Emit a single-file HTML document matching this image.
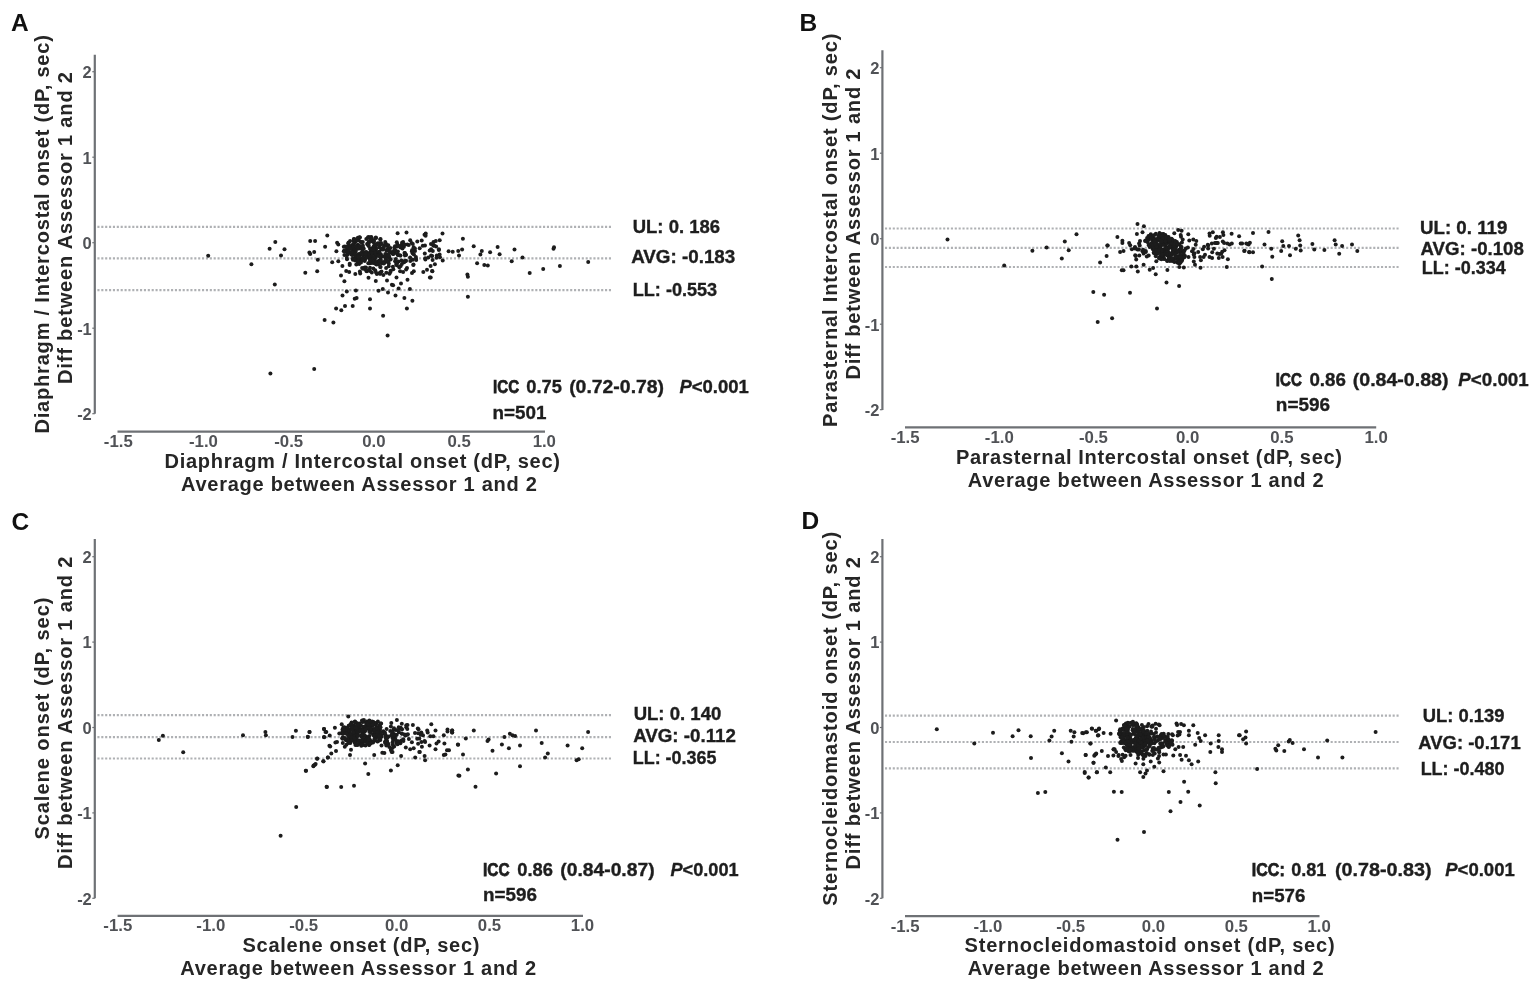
<!DOCTYPE html>
<html><head><meta charset="utf-8"><title>Bland-Altman plots</title>
<style>
html,body{margin:0;padding:0;background:#fff;}
body{width:1535px;height:985px;overflow:hidden;}
svg{display:block;}
#fig{width:1535px;height:985px;}
svg circle{fill:#1c1c1c;}
</style></head><body><div id="fig">
<svg width="1535" height="985" viewBox="0 0 1535 985" font-family="'Liberation Sans', sans-serif">
<rect width="1535" height="985" fill="#ffffff"/>
<g>
<text x="11.0" y="30.8" font-size="24.5" fill="#111111" font-weight="bold">A</text>
<line x1="94.8" y1="54.7" x2="94.8" y2="413.7" stroke="#6e7175" stroke-width="2.2"/>
<line x1="92.3" y1="71.7" x2="94.8" y2="71.7" stroke="#6e7175" stroke-width="1.2"/>
<text x="91.8" y="78.0" font-size="16.5" fill="#505256" font-weight="bold" text-anchor="end">2</text>
<line x1="92.3" y1="157.2" x2="94.8" y2="157.2" stroke="#6e7175" stroke-width="1.2"/>
<text x="91.8" y="163.5" font-size="16.5" fill="#505256" font-weight="bold" text-anchor="end">1</text>
<line x1="92.3" y1="242.7" x2="94.8" y2="242.7" stroke="#6e7175" stroke-width="1.2"/>
<text x="91.8" y="249.0" font-size="16.5" fill="#505256" font-weight="bold" text-anchor="end">0</text>
<line x1="92.3" y1="328.2" x2="94.8" y2="328.2" stroke="#6e7175" stroke-width="1.2"/>
<text x="91.8" y="334.5" font-size="16.5" fill="#505256" font-weight="bold" text-anchor="end">-1</text>
<line x1="92.3" y1="413.7" x2="94.8" y2="413.7" stroke="#6e7175" stroke-width="1.2"/>
<text x="91.8" y="420.0" font-size="16.5" fill="#505256" font-weight="bold" text-anchor="end">-2</text>
<line x1="117.5" y1="431.6" x2="545.0" y2="431.6" stroke="#6e7175" stroke-width="2.2"/>
<text x="118.3" y="447.0" font-size="16.8" fill="#505256" font-weight="bold" text-anchor="middle">-1.5</text>
<text x="203.5" y="447.0" font-size="16.8" fill="#505256" font-weight="bold" text-anchor="middle">-1.0</text>
<text x="288.7" y="447.0" font-size="16.8" fill="#505256" font-weight="bold" text-anchor="middle">-0.5</text>
<text x="373.9" y="447.0" font-size="16.8" fill="#505256" font-weight="bold" text-anchor="middle">0.0</text>
<text x="459.1" y="447.0" font-size="16.8" fill="#505256" font-weight="bold" text-anchor="middle">0.5</text>
<text x="544.3" y="447.0" font-size="16.8" fill="#505256" font-weight="bold" text-anchor="middle">1.0</text>
<line x1="97.39999999999999" y1="226.8" x2="611" y2="226.8" stroke="#afb1b4" stroke-width="2.2" stroke-dasharray="2.1 1.775"/>
<line x1="97.39999999999999" y1="258.4" x2="611" y2="258.4" stroke="#afb1b4" stroke-width="2.2" stroke-dasharray="2.1 1.775"/>
<line x1="97.39999999999999" y1="290.1" x2="611" y2="290.1" stroke="#afb1b4" stroke-width="2.2" stroke-dasharray="2.1 1.775"/>
<text x="0" y="0" transform="translate(164.5,468.2) scale(0.96,1)" font-size="20.9" fill="#262626" font-weight="bold" textLength="412.0" lengthAdjust="spacing">Diaphragm / Intercostal onset (dP, sec)</text>
<text x="0" y="0" transform="translate(181.0,490.9) scale(0.96,1)" font-size="20.9" fill="#262626" font-weight="bold" textLength="370.8" lengthAdjust="spacing">Average between Assessor 1 and 2</text>
<text x="0" y="0" transform="translate(48.6,433.6) rotate(-90) scale(0.96,1)" font-size="20.9" fill="#262626" font-weight="bold" textLength="415.1" lengthAdjust="spacing">Diaphragm / Intercostal onset (dP, sec)</text>
<text x="0" y="0" transform="translate(71.6,384.0) rotate(-90) scale(0.96,1)" font-size="20.9" fill="#262626" font-weight="bold" textLength="325.0" lengthAdjust="spacing">Diff between Assessor 1 and 2</text>
<text x="632.75" y="233.3" font-size="18.6" fill="#1e1e1e" font-weight="bold" stroke="#1e1e1e" stroke-width="0.35" textLength="87.23" lengthAdjust="spacingAndGlyphs">UL: 0. 186</text>
<text x="631.15" y="263.0" font-size="18.6" fill="#1e1e1e" font-weight="bold" stroke="#1e1e1e" stroke-width="0.35" textLength="104.11" lengthAdjust="spacingAndGlyphs">AVG: -0.183</text>
<text x="632.75" y="295.7" font-size="18.6" fill="#1e1e1e" font-weight="bold" stroke="#1e1e1e" stroke-width="0.35" textLength="84.43" lengthAdjust="spacingAndGlyphs">LL: -0.553</text>
<text x="493.05" y="392.7" font-size="18.6" fill="#1e1e1e" font-weight="bold" stroke="#1e1e1e" stroke-width="0.75" textLength="26.10" lengthAdjust="spacingAndGlyphs">ICC</text>
<text x="526.35" y="392.7" font-size="18.6" fill="#1e1e1e" font-weight="bold" stroke="#1e1e1e" stroke-width="0.35" textLength="35.57" lengthAdjust="spacingAndGlyphs">0.75</text>
<text x="569.15" y="392.7" font-size="18.6" fill="#1e1e1e" font-weight="bold" stroke="#1e1e1e" stroke-width="0.35" textLength="94.94" lengthAdjust="spacingAndGlyphs">(0.72-0.78)</text>
<text x="679.45" y="392.7" font-size="18.6" fill="#1e1e1e" font-weight="bold" stroke="#1e1e1e" stroke-width="0.35" textLength="69.42" lengthAdjust="spacingAndGlyphs"><tspan font-style="italic">P</tspan>&lt;0.001</text>
<text x="492.55" y="418.8" font-size="18.6" fill="#1e1e1e" font-weight="bold" stroke="#1e1e1e" stroke-width="0.35" textLength="53.86" lengthAdjust="spacingAndGlyphs">n=501</text>
<circle cx="208.2" cy="255.7" r="2.0"/>
<circle cx="251.4" cy="264.2" r="2.0"/>
<circle cx="269.6" cy="248.7" r="2.0"/>
<circle cx="275.3" cy="241.9" r="2.0"/>
<circle cx="284.5" cy="249.2" r="2.0"/>
<circle cx="281.0" cy="255.4" r="2.0"/>
<circle cx="274.8" cy="284.6" r="2.0"/>
<circle cx="270.4" cy="373.5" r="2.0"/>
<circle cx="314.2" cy="369.1" r="2.0"/>
<circle cx="310.2" cy="241.1" r="2.0"/>
<circle cx="315.1" cy="241.1" r="2.0"/>
<circle cx="309.4" cy="252.5" r="2.0"/>
<circle cx="314.2" cy="252.0" r="2.0"/>
<circle cx="310.2" cy="254.1" r="2.0"/>
<circle cx="317.8" cy="259.8" r="2.0"/>
<circle cx="305.3" cy="272.8" r="2.0"/>
<circle cx="317.2" cy="271.2" r="2.0"/>
<circle cx="327.3" cy="235.4" r="2.0"/>
<circle cx="325.1" cy="246.7" r="2.0"/>
<circle cx="336.4" cy="251.2" r="2.0"/>
<circle cx="337.1" cy="242.7" r="2.0"/>
<circle cx="338.3" cy="244.5" r="2.0"/>
<circle cx="332.2" cy="262.2" r="2.0"/>
<circle cx="338.3" cy="261.2" r="2.0"/>
<circle cx="344.4" cy="254.9" r="2.0"/>
<circle cx="346.8" cy="257.9" r="2.0"/>
<circle cx="346.2" cy="271.1" r="2.0"/>
<circle cx="349.2" cy="271.9" r="2.0"/>
<circle cx="341.0" cy="275.6" r="2.0"/>
<circle cx="344.4" cy="281.3" r="2.0"/>
<circle cx="355.3" cy="274.0" r="2.0"/>
<circle cx="360.2" cy="273.5" r="2.0"/>
<circle cx="368.5" cy="277.8" r="2.0"/>
<circle cx="366.9" cy="271.3" r="2.0"/>
<circle cx="370.0" cy="271.1" r="2.0"/>
<circle cx="376.0" cy="272.5" r="2.0"/>
<circle cx="380.3" cy="273.7" r="2.0"/>
<circle cx="383.4" cy="275.0" r="2.0"/>
<circle cx="390.7" cy="270.7" r="2.0"/>
<circle cx="389.5" cy="273.7" r="2.0"/>
<circle cx="396.5" cy="277.4" r="2.0"/>
<circle cx="375.8" cy="281.0" r="2.0"/>
<circle cx="387.0" cy="280.4" r="2.0"/>
<circle cx="391.9" cy="284.7" r="2.0"/>
<circle cx="393.1" cy="285.3" r="2.0"/>
<circle cx="401.0" cy="283.5" r="2.0"/>
<circle cx="407.5" cy="279.8" r="2.0"/>
<circle cx="412.0" cy="273.1" r="2.0"/>
<circle cx="413.8" cy="271.3" r="2.0"/>
<circle cx="403.1" cy="271.9" r="2.0"/>
<circle cx="346.8" cy="291.4" r="2.0"/>
<circle cx="355.9" cy="290.4" r="2.0"/>
<circle cx="342.5" cy="295.4" r="2.0"/>
<circle cx="354.7" cy="298.7" r="2.0"/>
<circle cx="356.6" cy="298.1" r="2.0"/>
<circle cx="370.0" cy="299.3" r="2.0"/>
<circle cx="378.5" cy="290.8" r="2.0"/>
<circle cx="382.8" cy="289.0" r="2.0"/>
<circle cx="388.0" cy="292.6" r="2.0"/>
<circle cx="398.6" cy="288.6" r="2.0"/>
<circle cx="409.9" cy="289.0" r="2.0"/>
<circle cx="395.5" cy="295.4" r="2.0"/>
<circle cx="404.4" cy="297.9" r="2.0"/>
<circle cx="412.4" cy="300.8" r="2.0"/>
<circle cx="336.1" cy="308.5" r="2.0"/>
<circle cx="345.0" cy="306.0" r="2.0"/>
<circle cx="341.3" cy="310.3" r="2.0"/>
<circle cx="352.7" cy="306.0" r="2.0"/>
<circle cx="370.0" cy="308.5" r="2.0"/>
<circle cx="406.9" cy="308.5" r="2.0"/>
<circle cx="383.1" cy="315.8" r="2.0"/>
<circle cx="324.6" cy="320.0" r="2.0"/>
<circle cx="333.4" cy="322.5" r="2.0"/>
<circle cx="387.6" cy="335.6" r="2.0"/>
<circle cx="424.5" cy="234.7" r="2.0"/>
<circle cx="406.5" cy="232.6" r="2.0"/>
<circle cx="397.6" cy="233.3" r="2.0"/>
<circle cx="423.3" cy="271.9" r="2.0"/>
<circle cx="432.1" cy="271.1" r="2.0"/>
<circle cx="429.9" cy="277.4" r="2.0"/>
<circle cx="442.5" cy="233.5" r="2.0"/>
<circle cx="439.7" cy="240.3" r="2.0"/>
<circle cx="462.9" cy="238.8" r="2.0"/>
<circle cx="473.7" cy="246.2" r="2.0"/>
<circle cx="497.6" cy="247.1" r="2.0"/>
<circle cx="514.5" cy="249.6" r="2.0"/>
<circle cx="553.5" cy="248.8" r="2.0"/>
<circle cx="554.0" cy="247.2" r="2.0"/>
<circle cx="438.9" cy="249.9" r="2.0"/>
<circle cx="448.6" cy="251.2" r="2.0"/>
<circle cx="452.7" cy="251.8" r="2.0"/>
<circle cx="458.2" cy="251.0" r="2.0"/>
<circle cx="462.1" cy="249.6" r="2.0"/>
<circle cx="459.0" cy="255.4" r="2.0"/>
<circle cx="481.8" cy="251.0" r="2.0"/>
<circle cx="480.4" cy="254.6" r="2.0"/>
<circle cx="490.1" cy="252.3" r="2.0"/>
<circle cx="499.6" cy="254.3" r="2.0"/>
<circle cx="522.5" cy="257.4" r="2.0"/>
<circle cx="511.7" cy="261.3" r="2.0"/>
<circle cx="588.2" cy="261.9" r="2.0"/>
<circle cx="440.0" cy="257.3" r="2.0"/>
<circle cx="442.7" cy="260.4" r="2.0"/>
<circle cx="477.1" cy="263.2" r="2.0"/>
<circle cx="484.3" cy="264.9" r="2.0"/>
<circle cx="487.8" cy="265.4" r="2.0"/>
<circle cx="559.9" cy="266.0" r="2.0"/>
<circle cx="543.2" cy="269.1" r="2.0"/>
<circle cx="529.7" cy="272.9" r="2.0"/>
<circle cx="432.4" cy="271.2" r="2.0"/>
<circle cx="430.7" cy="277.4" r="2.0"/>
<circle cx="467.4" cy="274.5" r="2.0"/>
<circle cx="467.9" cy="276.7" r="2.0"/>
<circle cx="467.9" cy="296.8" r="2.0"/>
<circle cx="433.3" cy="245.5" r="2.0"/>
<circle cx="436.1" cy="246.6" r="2.0"/>
<circle cx="431.1" cy="249.3" r="2.0"/>
<circle cx="432.8" cy="251.0" r="2.0"/>
<circle cx="431.1" cy="255.4" r="2.0"/>
<circle cx="430.6" cy="266.0" r="2.0"/>
<circle cx="366.3" cy="251.9" r="2.0"/>
<circle cx="391.0" cy="252.2" r="2.0"/>
<circle cx="369.1" cy="253.0" r="2.0"/>
<circle cx="352.7" cy="248.9" r="2.0"/>
<circle cx="374.7" cy="259.5" r="2.0"/>
<circle cx="348.7" cy="242.5" r="2.0"/>
<circle cx="380.5" cy="239.0" r="2.0"/>
<circle cx="376.6" cy="254.7" r="2.0"/>
<circle cx="371.9" cy="238.4" r="2.0"/>
<circle cx="353.9" cy="241.4" r="2.0"/>
<circle cx="344.9" cy="246.6" r="2.0"/>
<circle cx="364.8" cy="259.6" r="2.0"/>
<circle cx="369.5" cy="254.5" r="2.0"/>
<circle cx="368.4" cy="255.0" r="2.0"/>
<circle cx="367.5" cy="244.1" r="2.0"/>
<circle cx="385.9" cy="258.4" r="2.0"/>
<circle cx="360.4" cy="241.8" r="2.0"/>
<circle cx="359.5" cy="237.2" r="2.0"/>
<circle cx="383.1" cy="249.4" r="2.0"/>
<circle cx="387.3" cy="249.5" r="2.0"/>
<circle cx="390.3" cy="252.2" r="2.0"/>
<circle cx="394.1" cy="250.6" r="2.0"/>
<circle cx="346.5" cy="251.4" r="2.0"/>
<circle cx="384.2" cy="245.8" r="2.0"/>
<circle cx="348.2" cy="243.3" r="2.0"/>
<circle cx="350.1" cy="241.1" r="2.0"/>
<circle cx="385.4" cy="243.4" r="2.0"/>
<circle cx="372.2" cy="249.4" r="2.0"/>
<circle cx="352.3" cy="255.0" r="2.0"/>
<circle cx="349.5" cy="252.2" r="2.0"/>
<circle cx="349.5" cy="245.9" r="2.0"/>
<circle cx="354.9" cy="242.3" r="2.0"/>
<circle cx="357.6" cy="260.0" r="2.0"/>
<circle cx="354.4" cy="245.8" r="2.0"/>
<circle cx="386.8" cy="256.6" r="2.0"/>
<circle cx="355.0" cy="242.0" r="2.0"/>
<circle cx="383.7" cy="247.4" r="2.0"/>
<circle cx="359.9" cy="237.4" r="2.0"/>
<circle cx="347.6" cy="250.2" r="2.0"/>
<circle cx="355.4" cy="251.7" r="2.0"/>
<circle cx="362.5" cy="248.4" r="2.0"/>
<circle cx="392.8" cy="252.9" r="2.0"/>
<circle cx="371.6" cy="261.2" r="2.0"/>
<circle cx="353.8" cy="238.9" r="2.0"/>
<circle cx="357.1" cy="240.3" r="2.0"/>
<circle cx="388.4" cy="255.8" r="2.0"/>
<circle cx="366.3" cy="239.0" r="2.0"/>
<circle cx="354.8" cy="254.6" r="2.0"/>
<circle cx="355.4" cy="258.0" r="2.0"/>
<circle cx="374.7" cy="245.4" r="2.0"/>
<circle cx="351.5" cy="254.6" r="2.0"/>
<circle cx="370.9" cy="260.7" r="2.0"/>
<circle cx="375.6" cy="245.1" r="2.0"/>
<circle cx="367.7" cy="237.9" r="2.0"/>
<circle cx="352.7" cy="244.8" r="2.0"/>
<circle cx="374.0" cy="240.7" r="2.0"/>
<circle cx="360.6" cy="260.5" r="2.0"/>
<circle cx="378.6" cy="254.0" r="2.0"/>
<circle cx="343.8" cy="251.3" r="2.0"/>
<circle cx="367.3" cy="256.8" r="2.0"/>
<circle cx="346.9" cy="249.1" r="2.0"/>
<circle cx="379.9" cy="263.1" r="2.0"/>
<circle cx="380.6" cy="257.6" r="2.0"/>
<circle cx="360.7" cy="254.7" r="2.0"/>
<circle cx="363.7" cy="258.1" r="2.0"/>
<circle cx="387.5" cy="254.8" r="2.0"/>
<circle cx="375.8" cy="248.0" r="2.0"/>
<circle cx="372.9" cy="254.0" r="2.0"/>
<circle cx="346.9" cy="251.8" r="2.0"/>
<circle cx="381.2" cy="248.8" r="2.0"/>
<circle cx="380.9" cy="254.2" r="2.0"/>
<circle cx="364.8" cy="259.5" r="2.0"/>
<circle cx="346.7" cy="254.9" r="2.0"/>
<circle cx="344.4" cy="250.4" r="2.0"/>
<circle cx="368.9" cy="242.9" r="2.0"/>
<circle cx="379.2" cy="251.7" r="2.0"/>
<circle cx="373.5" cy="262.9" r="2.0"/>
<circle cx="358.1" cy="254.2" r="2.0"/>
<circle cx="354.8" cy="239.5" r="2.0"/>
<circle cx="389.4" cy="257.5" r="2.0"/>
<circle cx="364.7" cy="261.0" r="2.0"/>
<circle cx="359.5" cy="254.0" r="2.0"/>
<circle cx="353.7" cy="246.7" r="2.0"/>
<circle cx="389.0" cy="249.7" r="2.0"/>
<circle cx="373.9" cy="245.9" r="2.0"/>
<circle cx="350.2" cy="248.1" r="2.0"/>
<circle cx="385.2" cy="262.3" r="2.0"/>
<circle cx="378.4" cy="264.3" r="2.0"/>
<circle cx="358.6" cy="239.9" r="2.0"/>
<circle cx="367.2" cy="243.9" r="2.0"/>
<circle cx="354.5" cy="246.3" r="2.0"/>
<circle cx="375.5" cy="251.1" r="2.0"/>
<circle cx="358.3" cy="258.8" r="2.0"/>
<circle cx="394.0" cy="252.2" r="2.0"/>
<circle cx="379.5" cy="253.8" r="2.0"/>
<circle cx="358.2" cy="257.4" r="2.0"/>
<circle cx="368.3" cy="237.0" r="2.0"/>
<circle cx="386.9" cy="245.3" r="2.0"/>
<circle cx="375.8" cy="249.8" r="2.0"/>
<circle cx="375.2" cy="255.6" r="2.0"/>
<circle cx="379.5" cy="243.3" r="2.0"/>
<circle cx="368.8" cy="241.4" r="2.0"/>
<circle cx="343.8" cy="246.7" r="2.0"/>
<circle cx="381.1" cy="242.9" r="2.0"/>
<circle cx="357.8" cy="244.8" r="2.0"/>
<circle cx="379.1" cy="252.3" r="2.0"/>
<circle cx="374.0" cy="258.3" r="2.0"/>
<circle cx="362.5" cy="258.0" r="2.0"/>
<circle cx="390.6" cy="259.4" r="2.0"/>
<circle cx="350.0" cy="246.9" r="2.0"/>
<circle cx="374.1" cy="262.7" r="2.0"/>
<circle cx="362.4" cy="251.6" r="2.0"/>
<circle cx="387.6" cy="261.1" r="2.0"/>
<circle cx="392.1" cy="252.3" r="2.0"/>
<circle cx="377.8" cy="243.2" r="2.0"/>
<circle cx="379.4" cy="260.7" r="2.0"/>
<circle cx="375.6" cy="257.4" r="2.0"/>
<circle cx="352.9" cy="259.8" r="2.0"/>
<circle cx="369.9" cy="258.8" r="2.0"/>
<circle cx="358.4" cy="260.8" r="2.0"/>
<circle cx="387.9" cy="248.5" r="2.0"/>
<circle cx="347.7" cy="246.3" r="2.0"/>
<circle cx="370.7" cy="258.3" r="2.0"/>
<circle cx="369.9" cy="237.3" r="2.0"/>
<circle cx="385.6" cy="243.3" r="2.0"/>
<circle cx="359.5" cy="257.5" r="2.0"/>
<circle cx="369.1" cy="256.8" r="2.0"/>
<circle cx="385.9" cy="257.9" r="2.0"/>
<circle cx="392.0" cy="253.1" r="2.0"/>
<circle cx="354.5" cy="249.5" r="2.0"/>
<circle cx="357.4" cy="255.6" r="2.0"/>
<circle cx="376.1" cy="252.0" r="2.0"/>
<circle cx="386.5" cy="254.3" r="2.0"/>
<circle cx="359.7" cy="246.0" r="2.0"/>
<circle cx="352.8" cy="258.4" r="2.0"/>
<circle cx="393.1" cy="254.1" r="2.0"/>
<circle cx="373.8" cy="242.6" r="2.0"/>
<circle cx="370.8" cy="250.8" r="2.0"/>
<circle cx="376.0" cy="238.0" r="2.0"/>
<circle cx="393.2" cy="253.9" r="2.0"/>
<circle cx="362.9" cy="258.3" r="2.0"/>
<circle cx="372.3" cy="250.6" r="2.0"/>
<circle cx="380.3" cy="239.6" r="2.0"/>
<circle cx="371.3" cy="248.3" r="2.0"/>
<circle cx="357.2" cy="248.3" r="2.0"/>
<circle cx="350.0" cy="246.3" r="2.0"/>
<circle cx="368.4" cy="245.3" r="2.0"/>
<circle cx="352.7" cy="251.9" r="2.0"/>
<circle cx="354.1" cy="241.0" r="2.0"/>
<circle cx="379.3" cy="246.7" r="2.0"/>
<circle cx="361.1" cy="252.9" r="2.0"/>
<circle cx="347.8" cy="254.5" r="2.0"/>
<circle cx="349.5" cy="248.4" r="2.0"/>
<circle cx="357.1" cy="240.5" r="2.0"/>
<circle cx="370.8" cy="248.9" r="2.0"/>
<circle cx="362.9" cy="247.3" r="2.0"/>
<circle cx="371.7" cy="241.2" r="2.0"/>
<circle cx="353.3" cy="252.3" r="2.0"/>
<circle cx="376.0" cy="252.2" r="2.0"/>
<circle cx="386.8" cy="255.8" r="2.0"/>
<circle cx="388.3" cy="245.3" r="2.0"/>
<circle cx="380.4" cy="260.6" r="2.0"/>
<circle cx="390.4" cy="247.9" r="2.0"/>
<circle cx="358.0" cy="261.1" r="2.0"/>
<circle cx="354.8" cy="255.2" r="2.0"/>
<circle cx="357.9" cy="237.8" r="2.0"/>
<circle cx="386.4" cy="250.4" r="2.0"/>
<circle cx="385.2" cy="241.9" r="2.0"/>
<circle cx="363.4" cy="255.0" r="2.0"/>
<circle cx="377.0" cy="263.1" r="2.0"/>
<circle cx="368.4" cy="257.7" r="2.0"/>
<circle cx="368.5" cy="255.7" r="2.0"/>
<circle cx="371.6" cy="251.2" r="2.0"/>
<circle cx="373.7" cy="241.1" r="2.0"/>
<circle cx="353.7" cy="240.3" r="2.0"/>
<circle cx="366.2" cy="257.6" r="2.0"/>
<circle cx="360.2" cy="248.5" r="2.0"/>
<circle cx="370.0" cy="248.7" r="2.0"/>
<circle cx="375.8" cy="237.6" r="2.0"/>
<circle cx="378.2" cy="261.3" r="2.0"/>
<circle cx="352.7" cy="247.2" r="2.0"/>
<circle cx="381.7" cy="249.4" r="2.0"/>
<circle cx="354.4" cy="239.3" r="2.0"/>
<circle cx="371.3" cy="237.1" r="2.0"/>
<circle cx="388.3" cy="261.3" r="2.0"/>
<circle cx="378.4" cy="261.8" r="2.0"/>
<circle cx="376.0" cy="248.7" r="2.0"/>
<circle cx="374.1" cy="251.2" r="2.0"/>
<circle cx="355.1" cy="260.4" r="2.0"/>
<circle cx="380.7" cy="259.7" r="2.0"/>
<circle cx="379.3" cy="247.5" r="2.0"/>
<circle cx="401.5" cy="245.0" r="2.0"/>
<circle cx="361.6" cy="242.2" r="2.0"/>
<circle cx="373.8" cy="246.9" r="2.0"/>
<circle cx="370.8" cy="252.0" r="2.0"/>
<circle cx="361.0" cy="262.5" r="2.0"/>
<circle cx="388.8" cy="255.5" r="2.0"/>
<circle cx="355.8" cy="246.4" r="2.0"/>
<circle cx="376.9" cy="274.1" r="2.0"/>
<circle cx="363.8" cy="248.7" r="2.0"/>
<circle cx="359.4" cy="246.2" r="2.0"/>
<circle cx="354.5" cy="253.4" r="2.0"/>
<circle cx="397.8" cy="255.0" r="2.0"/>
<circle cx="362.8" cy="242.1" r="2.0"/>
<circle cx="375.8" cy="254.8" r="2.0"/>
<circle cx="349.9" cy="246.3" r="2.0"/>
<circle cx="371.2" cy="263.1" r="2.0"/>
<circle cx="383.3" cy="256.6" r="2.0"/>
<circle cx="366.2" cy="257.6" r="2.0"/>
<circle cx="371.8" cy="272.4" r="2.0"/>
<circle cx="351.6" cy="252.1" r="2.0"/>
<circle cx="394.8" cy="252.9" r="2.0"/>
<circle cx="397.6" cy="254.6" r="2.0"/>
<circle cx="374.6" cy="252.0" r="2.0"/>
<circle cx="347.2" cy="247.2" r="2.0"/>
<circle cx="382.9" cy="262.6" r="2.0"/>
<circle cx="382.2" cy="263.2" r="2.0"/>
<circle cx="367.2" cy="253.2" r="2.0"/>
<circle cx="389.7" cy="252.2" r="2.0"/>
<circle cx="348.0" cy="253.2" r="2.0"/>
<circle cx="362.2" cy="259.9" r="2.0"/>
<circle cx="359.0" cy="246.5" r="2.0"/>
<circle cx="366.0" cy="267.4" r="2.0"/>
<circle cx="371.1" cy="256.3" r="2.0"/>
<circle cx="372.2" cy="257.4" r="2.0"/>
<circle cx="388.7" cy="266.2" r="2.0"/>
<circle cx="342.4" cy="265.9" r="2.0"/>
<circle cx="371.9" cy="252.4" r="2.0"/>
<circle cx="353.5" cy="258.9" r="2.0"/>
<circle cx="385.3" cy="254.0" r="2.0"/>
<circle cx="368.6" cy="246.1" r="2.0"/>
<circle cx="404.9" cy="253.0" r="2.0"/>
<circle cx="364.9" cy="252.6" r="2.0"/>
<circle cx="357.9" cy="248.8" r="2.0"/>
<circle cx="373.7" cy="257.5" r="2.0"/>
<circle cx="362.9" cy="254.3" r="2.0"/>
<circle cx="347.0" cy="259.2" r="2.0"/>
<circle cx="358.5" cy="256.7" r="2.0"/>
<circle cx="355.7" cy="250.9" r="2.0"/>
<circle cx="375.9" cy="245.3" r="2.0"/>
<circle cx="370.7" cy="249.1" r="2.0"/>
<circle cx="400.7" cy="266.1" r="2.0"/>
<circle cx="377.4" cy="244.1" r="2.0"/>
<circle cx="362.9" cy="259.9" r="2.0"/>
<circle cx="362.8" cy="245.5" r="2.0"/>
<circle cx="350.6" cy="248.8" r="2.0"/>
<circle cx="372.2" cy="249.8" r="2.0"/>
<circle cx="403.9" cy="246.7" r="2.0"/>
<circle cx="378.2" cy="255.7" r="2.0"/>
<circle cx="369.5" cy="263.3" r="2.0"/>
<circle cx="366.0" cy="252.4" r="2.0"/>
<circle cx="365.3" cy="254.2" r="2.0"/>
<circle cx="395.1" cy="261.2" r="2.0"/>
<circle cx="347.9" cy="251.5" r="2.0"/>
<circle cx="357.6" cy="261.5" r="2.0"/>
<circle cx="376.0" cy="262.1" r="2.0"/>
<circle cx="370.9" cy="239.7" r="2.0"/>
<circle cx="380.1" cy="256.8" r="2.0"/>
<circle cx="381.1" cy="244.6" r="2.0"/>
<circle cx="373.5" cy="249.5" r="2.0"/>
<circle cx="364.7" cy="267.6" r="2.0"/>
<circle cx="380.3" cy="262.0" r="2.0"/>
<circle cx="366.4" cy="271.1" r="2.0"/>
<circle cx="362.1" cy="267.9" r="2.0"/>
<circle cx="400.1" cy="271.3" r="2.0"/>
<circle cx="380.5" cy="266.9" r="2.0"/>
<circle cx="359.1" cy="264.0" r="2.0"/>
<circle cx="370.0" cy="262.5" r="2.0"/>
<circle cx="376.0" cy="264.2" r="2.0"/>
<circle cx="380.1" cy="272.5" r="2.0"/>
<circle cx="386.1" cy="267.9" r="2.0"/>
<circle cx="371.4" cy="259.2" r="2.0"/>
<circle cx="373.3" cy="268.4" r="2.0"/>
<circle cx="359.9" cy="271.6" r="2.0"/>
<circle cx="370.0" cy="267.7" r="2.0"/>
<circle cx="370.1" cy="260.3" r="2.0"/>
<circle cx="406.0" cy="260.8" r="2.0"/>
<circle cx="388.8" cy="263.5" r="2.0"/>
<circle cx="379.2" cy="262.4" r="2.0"/>
<circle cx="368.8" cy="270.1" r="2.0"/>
<circle cx="404.2" cy="262.2" r="2.0"/>
<circle cx="375.2" cy="270.3" r="2.0"/>
<circle cx="365.5" cy="269.2" r="2.0"/>
<circle cx="363.2" cy="268.7" r="2.0"/>
<circle cx="381.5" cy="271.5" r="2.0"/>
<circle cx="380.5" cy="260.6" r="2.0"/>
<circle cx="385.0" cy="261.0" r="2.0"/>
<circle cx="386.3" cy="272.8" r="2.0"/>
<circle cx="383.9" cy="263.5" r="2.0"/>
<circle cx="392.9" cy="266.8" r="2.0"/>
<circle cx="356.3" cy="264.4" r="2.0"/>
<circle cx="396.3" cy="264.6" r="2.0"/>
<circle cx="376.8" cy="264.5" r="2.0"/>
<circle cx="349.7" cy="263.7" r="2.0"/>
<circle cx="380.3" cy="266.9" r="2.0"/>
<circle cx="393.3" cy="269.2" r="2.0"/>
<circle cx="390.4" cy="271.9" r="2.0"/>
<circle cx="368.3" cy="263.3" r="2.0"/>
<circle cx="379.7" cy="273.5" r="2.0"/>
<circle cx="349.7" cy="265.0" r="2.0"/>
<circle cx="402.5" cy="248.5" r="2.0"/>
<circle cx="416.2" cy="259.9" r="2.0"/>
<circle cx="404.8" cy="255.3" r="2.0"/>
<circle cx="410.3" cy="261.1" r="2.0"/>
<circle cx="415.0" cy="251.0" r="2.0"/>
<circle cx="412.8" cy="259.7" r="2.0"/>
<circle cx="413.5" cy="264.4" r="2.0"/>
<circle cx="416.0" cy="258.8" r="2.0"/>
<circle cx="405.6" cy="261.1" r="2.0"/>
<circle cx="412.3" cy="251.3" r="2.0"/>
<circle cx="403.1" cy="242.0" r="2.0"/>
<circle cx="402.0" cy="242.7" r="2.0"/>
<circle cx="397.9" cy="251.4" r="2.0"/>
<circle cx="394.4" cy="247.5" r="2.0"/>
<circle cx="395.8" cy="259.0" r="2.0"/>
<circle cx="411.6" cy="243.1" r="2.0"/>
<circle cx="394.5" cy="252.6" r="2.0"/>
<circle cx="407.0" cy="267.9" r="2.0"/>
<circle cx="397.4" cy="244.4" r="2.0"/>
<circle cx="398.6" cy="261.4" r="2.0"/>
<circle cx="407.3" cy="244.6" r="2.0"/>
<circle cx="397.4" cy="246.6" r="2.0"/>
<circle cx="397.1" cy="262.8" r="2.0"/>
<circle cx="400.5" cy="255.6" r="2.0"/>
<circle cx="412.6" cy="253.3" r="2.0"/>
<circle cx="399.3" cy="267.2" r="2.0"/>
<circle cx="414.9" cy="248.6" r="2.0"/>
<circle cx="406.1" cy="269.5" r="2.0"/>
<circle cx="404.6" cy="244.5" r="2.0"/>
<circle cx="412.2" cy="250.1" r="2.0"/>
<circle cx="405.7" cy="254.5" r="2.0"/>
<circle cx="408.8" cy="245.1" r="2.0"/>
<circle cx="393.3" cy="253.1" r="2.0"/>
<circle cx="401.9" cy="264.1" r="2.0"/>
<circle cx="410.1" cy="257.6" r="2.0"/>
<circle cx="396.8" cy="242.3" r="2.0"/>
<circle cx="400.7" cy="245.8" r="2.0"/>
<circle cx="413.9" cy="254.5" r="2.0"/>
<circle cx="399.4" cy="255.2" r="2.0"/>
<circle cx="396.6" cy="263.2" r="2.0"/>
<circle cx="413.3" cy="265.0" r="2.0"/>
<circle cx="395.0" cy="246.2" r="2.0"/>
<circle cx="410.2" cy="240.3" r="2.0"/>
<circle cx="404.5" cy="252.9" r="2.0"/>
<circle cx="415.9" cy="256.9" r="2.0"/>
<circle cx="413.6" cy="247.3" r="2.0"/>
<circle cx="411.9" cy="251.2" r="2.0"/>
<circle cx="412.8" cy="244.1" r="2.0"/>
<circle cx="406.0" cy="254.9" r="2.0"/>
<circle cx="396.8" cy="265.3" r="2.0"/>
<circle cx="400.5" cy="247.6" r="2.0"/>
<circle cx="394.8" cy="247.4" r="2.0"/>
<circle cx="404.2" cy="261.3" r="2.0"/>
<circle cx="401.6" cy="260.4" r="2.0"/>
<circle cx="395.5" cy="250.4" r="2.0"/>
<circle cx="427.0" cy="269.7" r="2.0"/>
<circle cx="436.6" cy="257.8" r="2.0"/>
<circle cx="433.5" cy="242.0" r="2.0"/>
<circle cx="429.7" cy="250.4" r="2.0"/>
<circle cx="435.8" cy="240.9" r="2.0"/>
<circle cx="431.0" cy="244.0" r="2.0"/>
<circle cx="424.8" cy="253.5" r="2.0"/>
<circle cx="422.8" cy="245.8" r="2.0"/>
<circle cx="425.2" cy="258.3" r="2.0"/>
<circle cx="421.7" cy="240.6" r="2.0"/>
<circle cx="434.0" cy="245.5" r="2.0"/>
<circle cx="439.6" cy="254.4" r="2.0"/>
<circle cx="433.8" cy="245.6" r="2.0"/>
<circle cx="432.6" cy="259.9" r="2.0"/>
<circle cx="419.7" cy="248.3" r="2.0"/>
<circle cx="436.8" cy="255.5" r="2.0"/>
<circle cx="417.3" cy="241.6" r="2.0"/>
<circle cx="425.6" cy="235.8" r="2.0"/>
<circle cx="438.9" cy="249.2" r="2.0"/>
<circle cx="428.3" cy="257.6" r="2.0"/>
<circle cx="434.9" cy="264.2" r="2.0"/>
<circle cx="425.0" cy="245.6" r="2.0"/>
<circle cx="425.7" cy="233.6" r="2.0"/>
<circle cx="425.4" cy="259.6" r="2.0"/>
<circle cx="432.2" cy="256.1" r="2.0"/>
</g>
<g>
<text x="799.5" y="30.7" font-size="24.5" fill="#111111" font-weight="bold">B</text>
<line x1="882.4" y1="50.3" x2="882.4" y2="409.9" stroke="#6e7175" stroke-width="2.2"/>
<line x1="879.9" y1="67.7" x2="882.4" y2="67.7" stroke="#6e7175" stroke-width="1.2"/>
<text x="879.4" y="74.0" font-size="16.5" fill="#505256" font-weight="bold" text-anchor="end">2</text>
<line x1="879.9" y1="153.2" x2="882.4" y2="153.2" stroke="#6e7175" stroke-width="1.2"/>
<text x="879.4" y="159.5" font-size="16.5" fill="#505256" font-weight="bold" text-anchor="end">1</text>
<line x1="879.9" y1="238.7" x2="882.4" y2="238.7" stroke="#6e7175" stroke-width="1.2"/>
<text x="879.4" y="245.0" font-size="16.5" fill="#505256" font-weight="bold" text-anchor="end">0</text>
<line x1="879.9" y1="324.2" x2="882.4" y2="324.2" stroke="#6e7175" stroke-width="1.2"/>
<text x="879.4" y="330.5" font-size="16.5" fill="#505256" font-weight="bold" text-anchor="end">-1</text>
<line x1="879.9" y1="409.7" x2="882.4" y2="409.7" stroke="#6e7175" stroke-width="1.2"/>
<text x="879.4" y="416.0" font-size="16.5" fill="#505256" font-weight="bold" text-anchor="end">-2</text>
<line x1="905.0" y1="427.3" x2="1376.2" y2="427.3" stroke="#6e7175" stroke-width="2.2"/>
<text x="905.1" y="442.7" font-size="16.8" fill="#505256" font-weight="bold" text-anchor="middle">-1.5</text>
<text x="999.3" y="442.7" font-size="16.8" fill="#505256" font-weight="bold" text-anchor="middle">-1.0</text>
<text x="1093.5" y="442.7" font-size="16.8" fill="#505256" font-weight="bold" text-anchor="middle">-0.5</text>
<text x="1187.7" y="442.7" font-size="16.8" fill="#505256" font-weight="bold" text-anchor="middle">0.0</text>
<text x="1281.9" y="442.7" font-size="16.8" fill="#505256" font-weight="bold" text-anchor="middle">0.5</text>
<text x="1376.1" y="442.7" font-size="16.8" fill="#505256" font-weight="bold" text-anchor="middle">1.0</text>
<line x1="885.0" y1="228.5" x2="1399.5" y2="228.5" stroke="#afb1b4" stroke-width="2.2" stroke-dasharray="2.1 1.775"/>
<line x1="885.0" y1="247.8" x2="1399.5" y2="247.8" stroke="#afb1b4" stroke-width="2.2" stroke-dasharray="2.1 1.775"/>
<line x1="885.0" y1="267.0" x2="1399.5" y2="267.0" stroke="#afb1b4" stroke-width="2.2" stroke-dasharray="2.1 1.775"/>
<text x="0" y="0" transform="translate(955.9,464.1) scale(0.96,1)" font-size="20.9" fill="#262626" font-weight="bold" textLength="402.1" lengthAdjust="spacing">Parasternal Intercostal onset (dP, sec)</text>
<text x="0" y="0" transform="translate(967.8,486.9) scale(0.96,1)" font-size="20.9" fill="#262626" font-weight="bold" textLength="370.8" lengthAdjust="spacing">Average between Assessor 1 and 2</text>
<text x="0" y="0" transform="translate(836.5,427.0) rotate(-90) scale(0.96,1)" font-size="20.9" fill="#262626" font-weight="bold" textLength="409.9" lengthAdjust="spacing">Parasternal Intercostal onset (dP, sec)</text>
<text x="0" y="0" transform="translate(859.8,379.6) rotate(-90) scale(0.96,1)" font-size="20.9" fill="#262626" font-weight="bold" textLength="324.0" lengthAdjust="spacing">Diff between Assessor 1 and 2</text>
<text x="1420.05" y="234.4" font-size="18.6" fill="#1e1e1e" font-weight="bold" stroke="#1e1e1e" stroke-width="0.35" textLength="87.25" lengthAdjust="spacingAndGlyphs">UL: 0. 119</text>
<text x="1420.55" y="254.7" font-size="18.6" fill="#1e1e1e" font-weight="bold" stroke="#1e1e1e" stroke-width="0.35" textLength="103.22" lengthAdjust="spacingAndGlyphs">AVG: -0.108</text>
<text x="1421.75" y="273.9" font-size="18.6" fill="#1e1e1e" font-weight="bold" stroke="#1e1e1e" stroke-width="0.35" textLength="84.02" lengthAdjust="spacingAndGlyphs">LL: -0.334</text>
<text x="1275.85" y="386.0" font-size="18.6" fill="#1e1e1e" font-weight="bold" stroke="#1e1e1e" stroke-width="0.75" textLength="26.05" lengthAdjust="spacingAndGlyphs">ICC</text>
<text x="1309.45" y="386.0" font-size="18.6" fill="#1e1e1e" font-weight="bold" stroke="#1e1e1e" stroke-width="0.35" textLength="36.45" lengthAdjust="spacingAndGlyphs">0.86</text>
<text x="1352.75" y="386.0" font-size="18.6" fill="#1e1e1e" font-weight="bold" stroke="#1e1e1e" stroke-width="0.35" textLength="95.67" lengthAdjust="spacingAndGlyphs">(0.84-0.88)</text>
<text x="1458.35" y="386.0" font-size="18.6" fill="#1e1e1e" font-weight="bold" stroke="#1e1e1e" stroke-width="0.35" textLength="70.29" lengthAdjust="spacingAndGlyphs"><tspan font-style="italic">P</tspan>&lt;0.001</text>
<text x="1275.85" y="411.0" font-size="18.6" fill="#1e1e1e" font-weight="bold" stroke="#1e1e1e" stroke-width="0.35" textLength="54.24" lengthAdjust="spacingAndGlyphs">n=596</text>
<circle cx="947.5" cy="239.6" r="2.0"/>
<circle cx="1004.2" cy="265.6" r="2.0"/>
<circle cx="1032.4" cy="250.8" r="2.0"/>
<circle cx="1046.6" cy="247.4" r="2.0"/>
<circle cx="1064.8" cy="241.4" r="2.0"/>
<circle cx="1076.5" cy="234.2" r="2.0"/>
<circle cx="1068.7" cy="250.3" r="2.0"/>
<circle cx="1061.8" cy="258.5" r="2.0"/>
<circle cx="1107.7" cy="245.4" r="2.0"/>
<circle cx="1106.6" cy="256.0" r="2.0"/>
<circle cx="1100.1" cy="262.6" r="2.0"/>
<circle cx="1093.3" cy="291.9" r="2.0"/>
<circle cx="1104.1" cy="294.8" r="2.0"/>
<circle cx="1097.7" cy="322.1" r="2.0"/>
<circle cx="1137.5" cy="224.0" r="2.0"/>
<circle cx="1143.9" cy="226.2" r="2.0"/>
<circle cx="1117.4" cy="237.1" r="2.0"/>
<circle cx="1122.4" cy="240.7" r="2.0"/>
<circle cx="1122.4" cy="242.9" r="2.0"/>
<circle cx="1107.3" cy="245.5" r="2.0"/>
<circle cx="1120.1" cy="251.9" r="2.0"/>
<circle cx="1123.5" cy="251.1" r="2.0"/>
<circle cx="1129.1" cy="242.9" r="2.0"/>
<circle cx="1130.2" cy="245.2" r="2.0"/>
<circle cx="1131.9" cy="249.3" r="2.0"/>
<circle cx="1135.2" cy="255.2" r="2.0"/>
<circle cx="1131.3" cy="266.4" r="2.0"/>
<circle cx="1136.3" cy="266.4" r="2.0"/>
<circle cx="1121.8" cy="270.3" r="2.0"/>
<circle cx="1123.5" cy="270.3" r="2.0"/>
<circle cx="1137.8" cy="271.6" r="2.0"/>
<circle cx="1143.6" cy="264.7" r="2.0"/>
<circle cx="1149.7" cy="269.7" r="2.0"/>
<circle cx="1153.1" cy="268.1" r="2.0"/>
<circle cx="1155.7" cy="274.2" r="2.0"/>
<circle cx="1167.4" cy="270.0" r="2.0"/>
<circle cx="1166.5" cy="282.6" r="2.0"/>
<circle cx="1179.1" cy="285.9" r="2.0"/>
<circle cx="1157.0" cy="308.6" r="2.0"/>
<circle cx="1130.0" cy="292.8" r="2.0"/>
<circle cx="1112.1" cy="318.3" r="2.0"/>
<circle cx="1136.9" cy="234.0" r="2.0"/>
<circle cx="1139.1" cy="243.5" r="2.0"/>
<circle cx="1142.5" cy="232.3" r="2.0"/>
<circle cx="1137.5" cy="249.6" r="2.0"/>
<circle cx="1142.5" cy="251.3" r="2.0"/>
<circle cx="1143.6" cy="253.5" r="2.0"/>
<circle cx="1179.3" cy="266.9" r="2.0"/>
<circle cx="1183.8" cy="267.5" r="2.0"/>
<circle cx="1174.3" cy="233.2" r="2.0"/>
<circle cx="1178.2" cy="230.1" r="2.0"/>
<circle cx="1181.6" cy="230.7" r="2.0"/>
<circle cx="1181.0" cy="236.8" r="2.0"/>
<circle cx="1182.7" cy="239.6" r="2.0"/>
<circle cx="1193.3" cy="239.6" r="2.0"/>
<circle cx="1200.5" cy="267.8" r="2.0"/>
<circle cx="1226.8" cy="266.9" r="2.0"/>
<circle cx="1194.4" cy="256.9" r="2.0"/>
<circle cx="1193.8" cy="261.4" r="2.0"/>
<circle cx="1195.0" cy="264.7" r="2.0"/>
<circle cx="1200.9" cy="260.2" r="2.0"/>
<circle cx="1209.5" cy="233.4" r="2.0"/>
<circle cx="1212.8" cy="232.3" r="2.0"/>
<circle cx="1216.7" cy="236.8" r="2.0"/>
<circle cx="1222.9" cy="232.3" r="2.0"/>
<circle cx="1223.4" cy="235.1" r="2.0"/>
<circle cx="1231.6" cy="233.7" r="2.0"/>
<circle cx="1239.1" cy="236.2" r="2.0"/>
<circle cx="1217.8" cy="242.9" r="2.0"/>
<circle cx="1227.3" cy="243.5" r="2.0"/>
<circle cx="1229.6" cy="244.6" r="2.0"/>
<circle cx="1231.8" cy="243.5" r="2.0"/>
<circle cx="1224.5" cy="250.2" r="2.0"/>
<circle cx="1240.7" cy="243.5" r="2.0"/>
<circle cx="1246.3" cy="243.5" r="2.0"/>
<circle cx="1248.6" cy="244.6" r="2.0"/>
<circle cx="1244.6" cy="250.8" r="2.0"/>
<circle cx="1249.1" cy="251.9" r="2.0"/>
<circle cx="1205.0" cy="254.7" r="2.0"/>
<circle cx="1209.5" cy="256.9" r="2.0"/>
<circle cx="1217.3" cy="253.5" r="2.0"/>
<circle cx="1219.5" cy="254.1" r="2.0"/>
<circle cx="1253.0" cy="233.1" r="2.0"/>
<circle cx="1268.5" cy="231.9" r="2.0"/>
<circle cx="1264.5" cy="244.4" r="2.0"/>
<circle cx="1271.3" cy="248.8" r="2.0"/>
<circle cx="1272.3" cy="256.7" r="2.0"/>
<circle cx="1262.1" cy="266.5" r="2.0"/>
<circle cx="1271.8" cy="279.1" r="2.0"/>
<circle cx="1282.2" cy="241.3" r="2.0"/>
<circle cx="1283.3" cy="246.0" r="2.0"/>
<circle cx="1281.2" cy="250.9" r="2.0"/>
<circle cx="1289.0" cy="246.0" r="2.0"/>
<circle cx="1290.0" cy="255.3" r="2.0"/>
<circle cx="1295.8" cy="248.8" r="2.0"/>
<circle cx="1298.2" cy="235.5" r="2.0"/>
<circle cx="1299.6" cy="240.2" r="2.0"/>
<circle cx="1300.2" cy="245.4" r="2.0"/>
<circle cx="1300.7" cy="250.4" r="2.0"/>
<circle cx="1312.4" cy="243.9" r="2.0"/>
<circle cx="1314.3" cy="249.6" r="2.0"/>
<circle cx="1324.4" cy="250.1" r="2.0"/>
<circle cx="1334.6" cy="240.2" r="2.0"/>
<circle cx="1335.7" cy="244.4" r="2.0"/>
<circle cx="1342.1" cy="246.0" r="2.0"/>
<circle cx="1339.2" cy="253.8" r="2.0"/>
<circle cx="1352.0" cy="244.4" r="2.0"/>
<circle cx="1357.3" cy="250.9" r="2.0"/>
<circle cx="1244.2" cy="250.9" r="2.0"/>
<circle cx="1249.4" cy="252.2" r="2.0"/>
<circle cx="1253.0" cy="252.2" r="2.0"/>
<circle cx="1242.1" cy="243.4" r="2.0"/>
<circle cx="1247.8" cy="243.9" r="2.0"/>
<circle cx="1249.9" cy="242.8" r="2.0"/>
<circle cx="1159.5" cy="233.0" r="2.0"/>
<circle cx="1173.5" cy="248.8" r="2.0"/>
<circle cx="1183.6" cy="252.6" r="2.0"/>
<circle cx="1185.0" cy="256.0" r="2.0"/>
<circle cx="1164.1" cy="258.7" r="2.0"/>
<circle cx="1167.2" cy="260.6" r="2.0"/>
<circle cx="1179.4" cy="244.6" r="2.0"/>
<circle cx="1178.7" cy="259.2" r="2.0"/>
<circle cx="1163.1" cy="237.4" r="2.0"/>
<circle cx="1177.6" cy="258.3" r="2.0"/>
<circle cx="1181.9" cy="260.7" r="2.0"/>
<circle cx="1171.7" cy="255.1" r="2.0"/>
<circle cx="1155.5" cy="248.7" r="2.0"/>
<circle cx="1180.6" cy="262.2" r="2.0"/>
<circle cx="1148.8" cy="245.3" r="2.0"/>
<circle cx="1176.2" cy="246.2" r="2.0"/>
<circle cx="1149.2" cy="237.4" r="2.0"/>
<circle cx="1166.0" cy="248.5" r="2.0"/>
<circle cx="1160.6" cy="248.8" r="2.0"/>
<circle cx="1183.6" cy="254.7" r="2.0"/>
<circle cx="1160.3" cy="246.4" r="2.0"/>
<circle cx="1157.4" cy="244.8" r="2.0"/>
<circle cx="1168.4" cy="247.8" r="2.0"/>
<circle cx="1171.9" cy="252.8" r="2.0"/>
<circle cx="1161.6" cy="243.1" r="2.0"/>
<circle cx="1156.9" cy="253.7" r="2.0"/>
<circle cx="1182.3" cy="259.5" r="2.0"/>
<circle cx="1167.6" cy="237.9" r="2.0"/>
<circle cx="1169.7" cy="246.3" r="2.0"/>
<circle cx="1161.6" cy="241.0" r="2.0"/>
<circle cx="1163.4" cy="254.5" r="2.0"/>
<circle cx="1175.2" cy="246.0" r="2.0"/>
<circle cx="1178.8" cy="244.3" r="2.0"/>
<circle cx="1158.5" cy="252.0" r="2.0"/>
<circle cx="1181.8" cy="257.7" r="2.0"/>
<circle cx="1178.6" cy="256.6" r="2.0"/>
<circle cx="1165.8" cy="250.2" r="2.0"/>
<circle cx="1162.1" cy="251.6" r="2.0"/>
<circle cx="1173.1" cy="248.8" r="2.0"/>
<circle cx="1172.2" cy="261.1" r="2.0"/>
<circle cx="1164.2" cy="259.1" r="2.0"/>
<circle cx="1148.5" cy="236.0" r="2.0"/>
<circle cx="1173.0" cy="248.3" r="2.0"/>
<circle cx="1151.6" cy="243.5" r="2.0"/>
<circle cx="1166.6" cy="242.0" r="2.0"/>
<circle cx="1165.6" cy="237.1" r="2.0"/>
<circle cx="1158.9" cy="236.3" r="2.0"/>
<circle cx="1183.4" cy="251.0" r="2.0"/>
<circle cx="1163.1" cy="234.8" r="2.0"/>
<circle cx="1168.7" cy="241.7" r="2.0"/>
<circle cx="1157.3" cy="248.6" r="2.0"/>
<circle cx="1150.8" cy="234.2" r="2.0"/>
<circle cx="1155.4" cy="240.4" r="2.0"/>
<circle cx="1158.5" cy="249.8" r="2.0"/>
<circle cx="1174.4" cy="252.7" r="2.0"/>
<circle cx="1160.4" cy="236.7" r="2.0"/>
<circle cx="1163.2" cy="233.9" r="2.0"/>
<circle cx="1176.5" cy="245.6" r="2.0"/>
<circle cx="1178.2" cy="260.4" r="2.0"/>
<circle cx="1149.9" cy="237.0" r="2.0"/>
<circle cx="1175.7" cy="241.9" r="2.0"/>
<circle cx="1171.6" cy="238.7" r="2.0"/>
<circle cx="1182.0" cy="251.5" r="2.0"/>
<circle cx="1171.9" cy="242.0" r="2.0"/>
<circle cx="1155.5" cy="251.0" r="2.0"/>
<circle cx="1159.8" cy="247.7" r="2.0"/>
<circle cx="1150.3" cy="245.7" r="2.0"/>
<circle cx="1179.6" cy="258.7" r="2.0"/>
<circle cx="1156.5" cy="251.2" r="2.0"/>
<circle cx="1170.5" cy="242.4" r="2.0"/>
<circle cx="1162.4" cy="236.0" r="2.0"/>
<circle cx="1178.2" cy="256.6" r="2.0"/>
<circle cx="1169.0" cy="258.9" r="2.0"/>
<circle cx="1157.7" cy="252.8" r="2.0"/>
<circle cx="1177.0" cy="252.4" r="2.0"/>
<circle cx="1175.6" cy="246.1" r="2.0"/>
<circle cx="1165.1" cy="240.0" r="2.0"/>
<circle cx="1160.5" cy="257.4" r="2.0"/>
<circle cx="1152.6" cy="240.5" r="2.0"/>
<circle cx="1178.0" cy="258.9" r="2.0"/>
<circle cx="1163.5" cy="253.8" r="2.0"/>
<circle cx="1168.8" cy="258.5" r="2.0"/>
<circle cx="1160.5" cy="256.4" r="2.0"/>
<circle cx="1182.0" cy="256.5" r="2.0"/>
<circle cx="1167.3" cy="255.6" r="2.0"/>
<circle cx="1153.8" cy="252.8" r="2.0"/>
<circle cx="1179.1" cy="263.3" r="2.0"/>
<circle cx="1173.8" cy="248.4" r="2.0"/>
<circle cx="1161.5" cy="237.6" r="2.0"/>
<circle cx="1164.5" cy="235.9" r="2.0"/>
<circle cx="1166.2" cy="243.5" r="2.0"/>
<circle cx="1154.5" cy="239.5" r="2.0"/>
<circle cx="1164.8" cy="243.1" r="2.0"/>
<circle cx="1179.9" cy="252.1" r="2.0"/>
<circle cx="1162.6" cy="256.2" r="2.0"/>
<circle cx="1184.3" cy="257.0" r="2.0"/>
<circle cx="1170.2" cy="243.0" r="2.0"/>
<circle cx="1155.9" cy="233.8" r="2.0"/>
<circle cx="1163.8" cy="236.4" r="2.0"/>
<circle cx="1161.4" cy="253.2" r="2.0"/>
<circle cx="1171.8" cy="239.9" r="2.0"/>
<circle cx="1161.7" cy="241.8" r="2.0"/>
<circle cx="1180.0" cy="259.9" r="2.0"/>
<circle cx="1162.8" cy="249.5" r="2.0"/>
<circle cx="1147.2" cy="240.3" r="2.0"/>
<circle cx="1175.0" cy="258.9" r="2.0"/>
<circle cx="1163.7" cy="240.5" r="2.0"/>
<circle cx="1154.1" cy="238.5" r="2.0"/>
<circle cx="1179.8" cy="249.5" r="2.0"/>
<circle cx="1163.2" cy="249.9" r="2.0"/>
<circle cx="1176.9" cy="242.1" r="2.0"/>
<circle cx="1180.2" cy="260.1" r="2.0"/>
<circle cx="1162.2" cy="238.2" r="2.0"/>
<circle cx="1167.2" cy="260.9" r="2.0"/>
<circle cx="1161.4" cy="242.0" r="2.0"/>
<circle cx="1172.3" cy="243.2" r="2.0"/>
<circle cx="1157.2" cy="253.6" r="2.0"/>
<circle cx="1163.9" cy="255.5" r="2.0"/>
<circle cx="1152.6" cy="249.1" r="2.0"/>
<circle cx="1179.8" cy="249.8" r="2.0"/>
<circle cx="1164.7" cy="252.2" r="2.0"/>
<circle cx="1167.3" cy="251.7" r="2.0"/>
<circle cx="1155.9" cy="242.6" r="2.0"/>
<circle cx="1156.8" cy="250.0" r="2.0"/>
<circle cx="1155.2" cy="253.9" r="2.0"/>
<circle cx="1172.5" cy="244.8" r="2.0"/>
<circle cx="1167.8" cy="238.8" r="2.0"/>
<circle cx="1172.3" cy="247.0" r="2.0"/>
<circle cx="1180.9" cy="247.8" r="2.0"/>
<circle cx="1169.8" cy="256.5" r="2.0"/>
<circle cx="1161.1" cy="234.4" r="2.0"/>
<circle cx="1159.4" cy="247.7" r="2.0"/>
<circle cx="1159.9" cy="252.4" r="2.0"/>
<circle cx="1170.7" cy="241.8" r="2.0"/>
<circle cx="1153.2" cy="235.6" r="2.0"/>
<circle cx="1169.4" cy="241.3" r="2.0"/>
<circle cx="1150.9" cy="237.7" r="2.0"/>
<circle cx="1157.8" cy="240.8" r="2.0"/>
<circle cx="1161.6" cy="250.5" r="2.0"/>
<circle cx="1172.3" cy="244.8" r="2.0"/>
<circle cx="1149.7" cy="246.9" r="2.0"/>
<circle cx="1162.0" cy="257.1" r="2.0"/>
<circle cx="1172.7" cy="248.0" r="2.0"/>
<circle cx="1160.5" cy="250.7" r="2.0"/>
<circle cx="1152.3" cy="247.1" r="2.0"/>
<circle cx="1168.6" cy="237.0" r="2.0"/>
<circle cx="1159.5" cy="245.3" r="2.0"/>
<circle cx="1181.3" cy="258.8" r="2.0"/>
<circle cx="1178.2" cy="261.7" r="2.0"/>
<circle cx="1171.8" cy="242.5" r="2.0"/>
<circle cx="1165.8" cy="244.6" r="2.0"/>
<circle cx="1149.0" cy="239.7" r="2.0"/>
<circle cx="1180.3" cy="254.7" r="2.0"/>
<circle cx="1156.9" cy="244.9" r="2.0"/>
<circle cx="1180.9" cy="249.0" r="2.0"/>
<circle cx="1156.2" cy="245.3" r="2.0"/>
<circle cx="1155.0" cy="249.7" r="2.0"/>
<circle cx="1168.7" cy="240.5" r="2.0"/>
<circle cx="1154.0" cy="246.9" r="2.0"/>
<circle cx="1175.0" cy="257.8" r="2.0"/>
<circle cx="1156.9" cy="246.3" r="2.0"/>
<circle cx="1176.2" cy="251.3" r="2.0"/>
<circle cx="1151.2" cy="237.0" r="2.0"/>
<circle cx="1159.9" cy="235.2" r="2.0"/>
<circle cx="1167.5" cy="237.2" r="2.0"/>
<circle cx="1183.3" cy="253.7" r="2.0"/>
<circle cx="1177.4" cy="262.4" r="2.0"/>
<circle cx="1176.9" cy="256.2" r="2.0"/>
<circle cx="1180.2" cy="257.1" r="2.0"/>
<circle cx="1154.5" cy="250.1" r="2.0"/>
<circle cx="1165.6" cy="236.9" r="2.0"/>
<circle cx="1158.1" cy="238.4" r="2.0"/>
<circle cx="1167.4" cy="239.2" r="2.0"/>
<circle cx="1175.1" cy="247.0" r="2.0"/>
<circle cx="1180.4" cy="257.3" r="2.0"/>
<circle cx="1160.0" cy="251.3" r="2.0"/>
<circle cx="1163.5" cy="239.5" r="2.0"/>
<circle cx="1155.0" cy="234.7" r="2.0"/>
<circle cx="1153.3" cy="245.9" r="2.0"/>
<circle cx="1158.0" cy="248.3" r="2.0"/>
<circle cx="1163.4" cy="234.3" r="2.0"/>
<circle cx="1160.3" cy="241.1" r="2.0"/>
<circle cx="1160.0" cy="234.3" r="2.0"/>
<circle cx="1149.8" cy="236.6" r="2.0"/>
<circle cx="1174.1" cy="242.7" r="2.0"/>
<circle cx="1159.5" cy="251.1" r="2.0"/>
<circle cx="1169.0" cy="258.0" r="2.0"/>
<circle cx="1166.0" cy="247.0" r="2.0"/>
<circle cx="1171.4" cy="241.6" r="2.0"/>
<circle cx="1169.9" cy="243.4" r="2.0"/>
<circle cx="1165.4" cy="234.9" r="2.0"/>
<circle cx="1170.9" cy="244.0" r="2.0"/>
<circle cx="1168.0" cy="249.4" r="2.0"/>
<circle cx="1161.1" cy="234.3" r="2.0"/>
<circle cx="1167.2" cy="253.7" r="2.0"/>
<circle cx="1172.8" cy="252.9" r="2.0"/>
<circle cx="1175.1" cy="241.0" r="2.0"/>
<circle cx="1155.1" cy="248.9" r="2.0"/>
<circle cx="1166.7" cy="237.4" r="2.0"/>
<circle cx="1158.8" cy="252.4" r="2.0"/>
<circle cx="1161.1" cy="255.0" r="2.0"/>
<circle cx="1165.3" cy="240.5" r="2.0"/>
<circle cx="1181.0" cy="247.0" r="2.0"/>
<circle cx="1157.3" cy="244.8" r="2.0"/>
<circle cx="1162.7" cy="239.2" r="2.0"/>
<circle cx="1166.0" cy="237.4" r="2.0"/>
<circle cx="1154.3" cy="247.4" r="2.0"/>
<circle cx="1147.4" cy="241.9" r="2.0"/>
<circle cx="1159.7" cy="250.5" r="2.0"/>
<circle cx="1172.3" cy="259.1" r="2.0"/>
<circle cx="1159.3" cy="257.3" r="2.0"/>
<circle cx="1179.6" cy="249.9" r="2.0"/>
<circle cx="1168.8" cy="238.5" r="2.0"/>
<circle cx="1157.3" cy="250.9" r="2.0"/>
<circle cx="1165.2" cy="248.1" r="2.0"/>
<circle cx="1181.5" cy="247.1" r="2.0"/>
<circle cx="1160.9" cy="244.1" r="2.0"/>
<circle cx="1163.4" cy="251.4" r="2.0"/>
<circle cx="1165.3" cy="252.6" r="2.0"/>
<circle cx="1161.1" cy="258.2" r="2.0"/>
<circle cx="1168.3" cy="252.2" r="2.0"/>
<circle cx="1163.3" cy="243.9" r="2.0"/>
<circle cx="1177.2" cy="252.1" r="2.0"/>
<circle cx="1177.7" cy="262.4" r="2.0"/>
<circle cx="1179.8" cy="263.2" r="2.0"/>
<circle cx="1170.3" cy="247.2" r="2.0"/>
<circle cx="1172.2" cy="258.5" r="2.0"/>
<circle cx="1175.5" cy="248.4" r="2.0"/>
<circle cx="1157.2" cy="252.2" r="2.0"/>
<circle cx="1163.0" cy="245.0" r="2.0"/>
<circle cx="1159.2" cy="235.4" r="2.0"/>
<circle cx="1172.7" cy="240.0" r="2.0"/>
<circle cx="1174.9" cy="254.5" r="2.0"/>
<circle cx="1148.9" cy="244.2" r="2.0"/>
<circle cx="1161.7" cy="255.2" r="2.0"/>
<circle cx="1154.4" cy="250.2" r="2.0"/>
<circle cx="1153.8" cy="252.7" r="2.0"/>
<circle cx="1169.9" cy="260.9" r="2.0"/>
<circle cx="1154.8" cy="240.8" r="2.0"/>
<circle cx="1164.7" cy="253.3" r="2.0"/>
<circle cx="1155.2" cy="242.7" r="2.0"/>
<circle cx="1162.3" cy="236.6" r="2.0"/>
<circle cx="1160.2" cy="252.5" r="2.0"/>
<circle cx="1169.8" cy="246.6" r="2.0"/>
<circle cx="1157.9" cy="238.5" r="2.0"/>
<circle cx="1165.3" cy="241.2" r="2.0"/>
<circle cx="1162.7" cy="238.1" r="2.0"/>
<circle cx="1156.3" cy="246.2" r="2.0"/>
<circle cx="1168.9" cy="253.5" r="2.0"/>
<circle cx="1179.2" cy="261.7" r="2.0"/>
<circle cx="1175.7" cy="256.7" r="2.0"/>
<circle cx="1159.9" cy="249.2" r="2.0"/>
<circle cx="1145.8" cy="252.0" r="2.0"/>
<circle cx="1169.3" cy="240.5" r="2.0"/>
<circle cx="1166.8" cy="252.3" r="2.0"/>
<circle cx="1179.1" cy="257.0" r="2.0"/>
<circle cx="1151.3" cy="243.4" r="2.0"/>
<circle cx="1166.7" cy="253.9" r="2.0"/>
<circle cx="1177.8" cy="251.0" r="2.0"/>
<circle cx="1177.6" cy="244.3" r="2.0"/>
<circle cx="1153.0" cy="245.1" r="2.0"/>
<circle cx="1161.9" cy="254.5" r="2.0"/>
<circle cx="1181.9" cy="242.4" r="2.0"/>
<circle cx="1155.8" cy="256.3" r="2.0"/>
<circle cx="1180.6" cy="256.9" r="2.0"/>
<circle cx="1169.7" cy="239.7" r="2.0"/>
<circle cx="1158.6" cy="236.1" r="2.0"/>
<circle cx="1156.3" cy="261.2" r="2.0"/>
<circle cx="1187.9" cy="247.5" r="2.0"/>
<circle cx="1174.4" cy="262.1" r="2.0"/>
<circle cx="1151.1" cy="237.7" r="2.0"/>
<circle cx="1175.5" cy="249.1" r="2.0"/>
<circle cx="1161.8" cy="250.4" r="2.0"/>
<circle cx="1172.6" cy="249.6" r="2.0"/>
<circle cx="1148.7" cy="255.6" r="2.0"/>
<circle cx="1158.2" cy="252.4" r="2.0"/>
<circle cx="1156.0" cy="249.9" r="2.0"/>
<circle cx="1161.4" cy="259.3" r="2.0"/>
<circle cx="1154.3" cy="241.8" r="2.0"/>
<circle cx="1174.2" cy="248.9" r="2.0"/>
<circle cx="1159.0" cy="250.5" r="2.0"/>
<circle cx="1161.5" cy="241.4" r="2.0"/>
<circle cx="1175.4" cy="241.6" r="2.0"/>
<circle cx="1167.0" cy="247.9" r="2.0"/>
<circle cx="1155.0" cy="243.9" r="2.0"/>
<circle cx="1169.2" cy="246.4" r="2.0"/>
<circle cx="1184.1" cy="257.3" r="2.0"/>
<circle cx="1159.1" cy="258.5" r="2.0"/>
<circle cx="1147.1" cy="238.1" r="2.0"/>
<circle cx="1180.7" cy="234.9" r="2.0"/>
<circle cx="1192.0" cy="251.2" r="2.0"/>
<circle cx="1214.9" cy="242.9" r="2.0"/>
<circle cx="1222.8" cy="241.5" r="2.0"/>
<circle cx="1222.2" cy="251.8" r="2.0"/>
<circle cx="1204.1" cy="246.7" r="2.0"/>
<circle cx="1188.5" cy="257.0" r="2.0"/>
<circle cx="1185.8" cy="248.6" r="2.0"/>
<circle cx="1212.2" cy="252.3" r="2.0"/>
<circle cx="1211.8" cy="243.6" r="2.0"/>
<circle cx="1184.5" cy="250.4" r="2.0"/>
<circle cx="1200.1" cy="257.1" r="2.0"/>
<circle cx="1207.8" cy="244.8" r="2.0"/>
<circle cx="1216.7" cy="243.0" r="2.0"/>
<circle cx="1189.3" cy="240.5" r="2.0"/>
<circle cx="1188.3" cy="234.3" r="2.0"/>
<circle cx="1218.8" cy="258.0" r="2.0"/>
<circle cx="1194.4" cy="253.2" r="2.0"/>
<circle cx="1227.9" cy="259.3" r="2.0"/>
<circle cx="1216.5" cy="242.9" r="2.0"/>
<circle cx="1193.5" cy="249.1" r="2.0"/>
<circle cx="1224.1" cy="243.1" r="2.0"/>
<circle cx="1212.1" cy="258.1" r="2.0"/>
<circle cx="1213.9" cy="248.8" r="2.0"/>
<circle cx="1193.7" cy="254.4" r="2.0"/>
<circle cx="1198.2" cy="251.9" r="2.0"/>
<circle cx="1195.7" cy="244.7" r="2.0"/>
<circle cx="1196.3" cy="240.9" r="2.0"/>
<circle cx="1215.8" cy="237.9" r="2.0"/>
<circle cx="1208.1" cy="245.4" r="2.0"/>
<circle cx="1209.7" cy="235.7" r="2.0"/>
<circle cx="1202.8" cy="249.3" r="2.0"/>
<circle cx="1222.6" cy="257.0" r="2.0"/>
<circle cx="1208.1" cy="248.4" r="2.0"/>
<circle cx="1203.6" cy="257.1" r="2.0"/>
<circle cx="1221.2" cy="253.8" r="2.0"/>
<circle cx="1219.9" cy="237.0" r="2.0"/>
<circle cx="1145.1" cy="241.1" r="2.0"/>
<circle cx="1146.8" cy="256.5" r="2.0"/>
<circle cx="1145.7" cy="250.9" r="2.0"/>
<circle cx="1140.0" cy="240.9" r="2.0"/>
<circle cx="1136.2" cy="259.6" r="2.0"/>
<circle cx="1139.3" cy="255.5" r="2.0"/>
<circle cx="1134.6" cy="248.2" r="2.0"/>
<circle cx="1139.7" cy="245.4" r="2.0"/>
<circle cx="1135.4" cy="248.6" r="2.0"/>
<circle cx="1139.0" cy="249.6" r="2.0"/>
<circle cx="1143.1" cy="249.7" r="2.0"/>
<circle cx="1135.7" cy="256.0" r="2.0"/>
<circle cx="1135.0" cy="247.0" r="2.0"/>
<circle cx="1145.5" cy="240.6" r="2.0"/>
</g>
<g>
<text x="11.5" y="529.7" font-size="24.5" fill="#111111" font-weight="bold">C</text>
<line x1="94.8" y1="538.9" x2="94.8" y2="898.3" stroke="#6e7175" stroke-width="2.2"/>
<line x1="92.3" y1="556.7" x2="94.8" y2="556.7" stroke="#6e7175" stroke-width="1.2"/>
<text x="91.8" y="563.0" font-size="16.5" fill="#505256" font-weight="bold" text-anchor="end">2</text>
<line x1="92.3" y1="642.1" x2="94.8" y2="642.1" stroke="#6e7175" stroke-width="1.2"/>
<text x="91.8" y="648.4" font-size="16.5" fill="#505256" font-weight="bold" text-anchor="end">1</text>
<line x1="92.3" y1="727.5" x2="94.8" y2="727.5" stroke="#6e7175" stroke-width="1.2"/>
<text x="91.8" y="733.8" font-size="16.5" fill="#505256" font-weight="bold" text-anchor="end">0</text>
<line x1="92.3" y1="812.9" x2="94.8" y2="812.9" stroke="#6e7175" stroke-width="1.2"/>
<text x="91.8" y="819.2" font-size="16.5" fill="#505256" font-weight="bold" text-anchor="end">-1</text>
<line x1="92.3" y1="898.3" x2="94.8" y2="898.3" stroke="#6e7175" stroke-width="1.2"/>
<text x="91.8" y="904.6" font-size="16.5" fill="#505256" font-weight="bold" text-anchor="end">-2</text>
<line x1="117.6" y1="915.9" x2="583.0" y2="915.9" stroke="#6e7175" stroke-width="2.2"/>
<text x="117.8" y="931.3" font-size="16.8" fill="#505256" font-weight="bold" text-anchor="middle">-1.5</text>
<text x="210.8" y="931.3" font-size="16.8" fill="#505256" font-weight="bold" text-anchor="middle">-1.0</text>
<text x="303.7" y="931.3" font-size="16.8" fill="#505256" font-weight="bold" text-anchor="middle">-0.5</text>
<text x="396.6" y="931.3" font-size="16.8" fill="#505256" font-weight="bold" text-anchor="middle">0.0</text>
<text x="489.5" y="931.3" font-size="16.8" fill="#505256" font-weight="bold" text-anchor="middle">0.5</text>
<text x="582.5" y="931.3" font-size="16.8" fill="#505256" font-weight="bold" text-anchor="middle">1.0</text>
<line x1="97.39999999999999" y1="715.2" x2="611" y2="715.2" stroke="#afb1b4" stroke-width="2.2" stroke-dasharray="2.1 1.775"/>
<line x1="97.39999999999999" y1="737.1" x2="611" y2="737.1" stroke="#afb1b4" stroke-width="2.2" stroke-dasharray="2.1 1.775"/>
<line x1="97.39999999999999" y1="758.5" x2="611" y2="758.5" stroke="#afb1b4" stroke-width="2.2" stroke-dasharray="2.1 1.775"/>
<text x="0" y="0" transform="translate(242.5,952.4) scale(0.96,1)" font-size="20.9" fill="#262626" font-weight="bold" textLength="246.9" lengthAdjust="spacing">Scalene onset (dP, sec)</text>
<text x="0" y="0" transform="translate(180.3,975.2) scale(0.96,1)" font-size="20.9" fill="#262626" font-weight="bold" textLength="370.8" lengthAdjust="spacing">Average between Assessor 1 and 2</text>
<text x="0" y="0" transform="translate(49.3,839.6) rotate(-90) scale(0.96,1)" font-size="20.9" fill="#262626" font-weight="bold" textLength="252.1" lengthAdjust="spacing">Scalene onset (dP, sec)</text>
<text x="0" y="0" transform="translate(71.9,869.0) rotate(-90) scale(0.96,1)" font-size="20.9" fill="#262626" font-weight="bold" textLength="325.5" lengthAdjust="spacing">Diff between Assessor 1 and 2</text>
<text x="633.65" y="720.1" font-size="18.6" fill="#1e1e1e" font-weight="bold" stroke="#1e1e1e" stroke-width="0.35" textLength="87.64" lengthAdjust="spacingAndGlyphs">UL: 0. 140</text>
<text x="633.15" y="742.3" font-size="18.6" fill="#1e1e1e" font-weight="bold" stroke="#1e1e1e" stroke-width="0.35" textLength="102.74" lengthAdjust="spacingAndGlyphs">AVG: -0.112</text>
<text x="632.75" y="763.8" font-size="18.6" fill="#1e1e1e" font-weight="bold" stroke="#1e1e1e" stroke-width="0.35" textLength="83.65" lengthAdjust="spacingAndGlyphs">LL: -0.365</text>
<text x="483.05" y="875.5" font-size="18.6" fill="#1e1e1e" font-weight="bold" stroke="#1e1e1e" stroke-width="0.75" textLength="26.62" lengthAdjust="spacingAndGlyphs">ICC</text>
<text x="517.25" y="875.5" font-size="18.6" fill="#1e1e1e" font-weight="bold" stroke="#1e1e1e" stroke-width="0.35" textLength="35.69" lengthAdjust="spacingAndGlyphs">0.86</text>
<text x="560.25" y="875.5" font-size="18.6" fill="#1e1e1e" font-weight="bold" stroke="#1e1e1e" stroke-width="0.35" textLength="94.37" lengthAdjust="spacingAndGlyphs">(0.84-0.87)</text>
<text x="670.45" y="875.5" font-size="18.6" fill="#1e1e1e" font-weight="bold" stroke="#1e1e1e" stroke-width="0.35" textLength="68.25" lengthAdjust="spacingAndGlyphs"><tspan font-style="italic">P</tspan>&lt;0.001</text>
<text x="483.05" y="901.4" font-size="18.6" fill="#1e1e1e" font-weight="bold" stroke="#1e1e1e" stroke-width="0.35" textLength="53.88" lengthAdjust="spacingAndGlyphs">n=596</text>
<circle cx="158.8" cy="739.9" r="2.0"/>
<circle cx="162.9" cy="735.8" r="2.0"/>
<circle cx="183.2" cy="752.2" r="2.0"/>
<circle cx="243.0" cy="735.3" r="2.0"/>
<circle cx="265.4" cy="732.0" r="2.0"/>
<circle cx="265.9" cy="735.3" r="2.0"/>
<circle cx="295.9" cy="730.8" r="2.0"/>
<circle cx="292.5" cy="737.0" r="2.0"/>
<circle cx="309.6" cy="732.0" r="2.0"/>
<circle cx="307.8" cy="736.9" r="2.0"/>
<circle cx="324.0" cy="728.9" r="2.0"/>
<circle cx="326.3" cy="732.0" r="2.0"/>
<circle cx="324.0" cy="737.0" r="2.0"/>
<circle cx="329.4" cy="745.7" r="2.0"/>
<circle cx="317.2" cy="758.6" r="2.0"/>
<circle cx="327.9" cy="757.6" r="2.0"/>
<circle cx="323.3" cy="761.2" r="2.0"/>
<circle cx="314.9" cy="764.7" r="2.0"/>
<circle cx="313.4" cy="766.2" r="2.0"/>
<circle cx="305.8" cy="770.8" r="2.0"/>
<circle cx="326.6" cy="786.8" r="2.0"/>
<circle cx="296.2" cy="806.9" r="2.0"/>
<circle cx="280.6" cy="835.8" r="2.0"/>
<circle cx="348.3" cy="716.5" r="2.0"/>
<circle cx="396.9" cy="720.1" r="2.0"/>
<circle cx="431.3" cy="724.3" r="2.0"/>
<circle cx="309.4" cy="732.1" r="2.0"/>
<circle cx="307.8" cy="736.8" r="2.0"/>
<circle cx="324.0" cy="729.0" r="2.0"/>
<circle cx="325.5" cy="731.9" r="2.0"/>
<circle cx="324.2" cy="737.3" r="2.0"/>
<circle cx="329.7" cy="735.4" r="2.0"/>
<circle cx="334.9" cy="727.7" r="2.0"/>
<circle cx="341.7" cy="724.3" r="2.0"/>
<circle cx="330.2" cy="746.5" r="2.0"/>
<circle cx="335.4" cy="742.5" r="2.0"/>
<circle cx="337.0" cy="742.0" r="2.0"/>
<circle cx="331.3" cy="753.5" r="2.0"/>
<circle cx="336.0" cy="751.1" r="2.0"/>
<circle cx="327.9" cy="757.6" r="2.0"/>
<circle cx="323.5" cy="761.3" r="2.0"/>
<circle cx="317.2" cy="758.7" r="2.0"/>
<circle cx="313.6" cy="765.5" r="2.0"/>
<circle cx="315.6" cy="763.9" r="2.0"/>
<circle cx="306.0" cy="770.7" r="2.0"/>
<circle cx="326.9" cy="787.0" r="2.0"/>
<circle cx="341.2" cy="787.0" r="2.0"/>
<circle cx="354.0" cy="785.8" r="2.0"/>
<circle cx="365.1" cy="763.4" r="2.0"/>
<circle cx="368.3" cy="774.1" r="2.0"/>
<circle cx="374.2" cy="755.0" r="2.0"/>
<circle cx="382.3" cy="752.7" r="2.0"/>
<circle cx="384.4" cy="752.9" r="2.0"/>
<circle cx="390.9" cy="770.4" r="2.0"/>
<circle cx="397.7" cy="765.2" r="2.0"/>
<circle cx="401.1" cy="756.1" r="2.0"/>
<circle cx="415.2" cy="757.6" r="2.0"/>
<circle cx="424.6" cy="756.1" r="2.0"/>
<circle cx="425.1" cy="760.2" r="2.0"/>
<circle cx="419.3" cy="751.9" r="2.0"/>
<circle cx="435.5" cy="749.3" r="2.0"/>
<circle cx="444.4" cy="743.6" r="2.0"/>
<circle cx="447.0" cy="750.3" r="2.0"/>
<circle cx="449.0" cy="750.3" r="2.0"/>
<circle cx="443.8" cy="755.0" r="2.0"/>
<circle cx="445.4" cy="754.5" r="2.0"/>
<circle cx="457.9" cy="744.6" r="2.0"/>
<circle cx="458.4" cy="775.4" r="2.0"/>
<circle cx="417.8" cy="728.5" r="2.0"/>
<circle cx="427.2" cy="730.5" r="2.0"/>
<circle cx="427.7" cy="732.6" r="2.0"/>
<circle cx="435.5" cy="730.5" r="2.0"/>
<circle cx="430.3" cy="736.3" r="2.0"/>
<circle cx="433.4" cy="736.3" r="2.0"/>
<circle cx="443.8" cy="735.2" r="2.0"/>
<circle cx="447.5" cy="729.5" r="2.0"/>
<circle cx="447.5" cy="731.6" r="2.0"/>
<circle cx="452.2" cy="730.5" r="2.0"/>
<circle cx="452.2" cy="732.6" r="2.0"/>
<circle cx="436.5" cy="743.6" r="2.0"/>
<circle cx="438.6" cy="741.5" r="2.0"/>
<circle cx="421.9" cy="746.7" r="2.0"/>
<circle cx="421.4" cy="742.0" r="2.0"/>
<circle cx="425.1" cy="742.0" r="2.0"/>
<circle cx="419.3" cy="738.4" r="2.0"/>
<circle cx="421.4" cy="733.1" r="2.0"/>
<circle cx="423.0" cy="735.2" r="2.0"/>
<circle cx="350.0" cy="755.0" r="2.0"/>
<circle cx="351.0" cy="749.8" r="2.0"/>
<circle cx="344.8" cy="746.7" r="2.0"/>
<circle cx="473.8" cy="730.5" r="2.0"/>
<circle cx="465.8" cy="738.6" r="2.0"/>
<circle cx="458.1" cy="744.8" r="2.0"/>
<circle cx="463.0" cy="754.5" r="2.0"/>
<circle cx="467.9" cy="769.6" r="2.0"/>
<circle cx="459.4" cy="775.7" r="2.0"/>
<circle cx="475.5" cy="786.8" r="2.0"/>
<circle cx="487.5" cy="741.0" r="2.0"/>
<circle cx="488.6" cy="739.4" r="2.0"/>
<circle cx="492.5" cy="750.7" r="2.0"/>
<circle cx="496.1" cy="773.6" r="2.0"/>
<circle cx="501.9" cy="744.4" r="2.0"/>
<circle cx="504.4" cy="737.1" r="2.0"/>
<circle cx="508.9" cy="748.3" r="2.0"/>
<circle cx="509.9" cy="733.7" r="2.0"/>
<circle cx="512.5" cy="735.2" r="2.0"/>
<circle cx="515.1" cy="736.1" r="2.0"/>
<circle cx="520.0" cy="745.4" r="2.0"/>
<circle cx="520.0" cy="766.3" r="2.0"/>
<circle cx="536.0" cy="730.5" r="2.0"/>
<circle cx="541.7" cy="743.0" r="2.0"/>
<circle cx="547.8" cy="753.5" r="2.0"/>
<circle cx="545.1" cy="757.6" r="2.0"/>
<circle cx="567.6" cy="745.4" r="2.0"/>
<circle cx="582.2" cy="748.3" r="2.0"/>
<circle cx="578.7" cy="759.2" r="2.0"/>
<circle cx="576.6" cy="760.2" r="2.0"/>
<circle cx="588.1" cy="731.9" r="2.0"/>
<circle cx="452.1" cy="730.5" r="2.0"/>
<circle cx="452.1" cy="732.6" r="2.0"/>
<circle cx="366.0" cy="736.4" r="2.0"/>
<circle cx="376.3" cy="727.2" r="2.0"/>
<circle cx="369.4" cy="743.2" r="2.0"/>
<circle cx="369.4" cy="736.0" r="2.0"/>
<circle cx="363.1" cy="745.1" r="2.0"/>
<circle cx="364.2" cy="731.6" r="2.0"/>
<circle cx="381.6" cy="736.5" r="2.0"/>
<circle cx="354.7" cy="728.0" r="2.0"/>
<circle cx="362.8" cy="721.4" r="2.0"/>
<circle cx="367.5" cy="739.1" r="2.0"/>
<circle cx="359.9" cy="742.0" r="2.0"/>
<circle cx="381.0" cy="734.4" r="2.0"/>
<circle cx="370.6" cy="723.0" r="2.0"/>
<circle cx="353.9" cy="725.5" r="2.0"/>
<circle cx="379.7" cy="739.5" r="2.0"/>
<circle cx="347.2" cy="728.4" r="2.0"/>
<circle cx="352.2" cy="727.1" r="2.0"/>
<circle cx="342.3" cy="733.6" r="2.0"/>
<circle cx="354.8" cy="730.2" r="2.0"/>
<circle cx="373.4" cy="734.6" r="2.0"/>
<circle cx="347.0" cy="728.2" r="2.0"/>
<circle cx="344.4" cy="727.2" r="2.0"/>
<circle cx="350.5" cy="725.0" r="2.0"/>
<circle cx="369.5" cy="731.9" r="2.0"/>
<circle cx="361.9" cy="729.3" r="2.0"/>
<circle cx="364.6" cy="740.4" r="2.0"/>
<circle cx="354.9" cy="721.8" r="2.0"/>
<circle cx="362.2" cy="729.9" r="2.0"/>
<circle cx="374.8" cy="722.9" r="2.0"/>
<circle cx="364.8" cy="731.5" r="2.0"/>
<circle cx="355.2" cy="743.1" r="2.0"/>
<circle cx="371.5" cy="724.2" r="2.0"/>
<circle cx="362.8" cy="735.9" r="2.0"/>
<circle cx="367.3" cy="739.0" r="2.0"/>
<circle cx="361.4" cy="731.0" r="2.0"/>
<circle cx="363.3" cy="726.8" r="2.0"/>
<circle cx="362.2" cy="720.5" r="2.0"/>
<circle cx="358.7" cy="740.9" r="2.0"/>
<circle cx="355.6" cy="722.7" r="2.0"/>
<circle cx="349.8" cy="738.5" r="2.0"/>
<circle cx="368.1" cy="727.4" r="2.0"/>
<circle cx="368.2" cy="739.8" r="2.0"/>
<circle cx="360.2" cy="741.0" r="2.0"/>
<circle cx="373.5" cy="735.3" r="2.0"/>
<circle cx="363.5" cy="742.1" r="2.0"/>
<circle cx="368.3" cy="738.8" r="2.0"/>
<circle cx="351.6" cy="722.4" r="2.0"/>
<circle cx="353.4" cy="735.2" r="2.0"/>
<circle cx="366.1" cy="725.2" r="2.0"/>
<circle cx="374.4" cy="734.9" r="2.0"/>
<circle cx="359.4" cy="743.8" r="2.0"/>
<circle cx="376.2" cy="723.6" r="2.0"/>
<circle cx="374.8" cy="740.6" r="2.0"/>
<circle cx="351.6" cy="722.9" r="2.0"/>
<circle cx="357.4" cy="740.8" r="2.0"/>
<circle cx="373.1" cy="742.5" r="2.0"/>
<circle cx="368.0" cy="728.5" r="2.0"/>
<circle cx="347.4" cy="728.6" r="2.0"/>
<circle cx="356.2" cy="732.9" r="2.0"/>
<circle cx="360.9" cy="725.3" r="2.0"/>
<circle cx="359.4" cy="723.4" r="2.0"/>
<circle cx="375.6" cy="734.2" r="2.0"/>
<circle cx="361.3" cy="736.6" r="2.0"/>
<circle cx="345.3" cy="728.8" r="2.0"/>
<circle cx="357.2" cy="726.6" r="2.0"/>
<circle cx="354.9" cy="741.7" r="2.0"/>
<circle cx="342.4" cy="731.7" r="2.0"/>
<circle cx="358.1" cy="727.3" r="2.0"/>
<circle cx="372.4" cy="725.8" r="2.0"/>
<circle cx="369.1" cy="744.9" r="2.0"/>
<circle cx="355.9" cy="741.1" r="2.0"/>
<circle cx="375.4" cy="733.4" r="2.0"/>
<circle cx="375.2" cy="730.0" r="2.0"/>
<circle cx="368.2" cy="724.9" r="2.0"/>
<circle cx="350.4" cy="743.0" r="2.0"/>
<circle cx="360.1" cy="741.1" r="2.0"/>
<circle cx="353.9" cy="739.0" r="2.0"/>
<circle cx="380.1" cy="736.3" r="2.0"/>
<circle cx="351.9" cy="737.4" r="2.0"/>
<circle cx="360.6" cy="730.4" r="2.0"/>
<circle cx="346.1" cy="740.0" r="2.0"/>
<circle cx="348.6" cy="725.7" r="2.0"/>
<circle cx="358.1" cy="732.4" r="2.0"/>
<circle cx="349.4" cy="731.0" r="2.0"/>
<circle cx="373.8" cy="722.5" r="2.0"/>
<circle cx="347.7" cy="733.6" r="2.0"/>
<circle cx="365.9" cy="722.4" r="2.0"/>
<circle cx="379.8" cy="733.8" r="2.0"/>
<circle cx="358.1" cy="735.3" r="2.0"/>
<circle cx="362.7" cy="733.2" r="2.0"/>
<circle cx="355.0" cy="734.0" r="2.0"/>
<circle cx="364.8" cy="727.4" r="2.0"/>
<circle cx="361.2" cy="743.8" r="2.0"/>
<circle cx="351.9" cy="726.6" r="2.0"/>
<circle cx="354.8" cy="742.3" r="2.0"/>
<circle cx="354.7" cy="741.5" r="2.0"/>
<circle cx="375.8" cy="725.1" r="2.0"/>
<circle cx="360.9" cy="741.4" r="2.0"/>
<circle cx="352.3" cy="735.6" r="2.0"/>
<circle cx="356.7" cy="723.1" r="2.0"/>
<circle cx="365.0" cy="727.3" r="2.0"/>
<circle cx="376.6" cy="736.9" r="2.0"/>
<circle cx="368.1" cy="741.5" r="2.0"/>
<circle cx="355.8" cy="736.9" r="2.0"/>
<circle cx="356.7" cy="727.5" r="2.0"/>
<circle cx="346.8" cy="740.5" r="2.0"/>
<circle cx="372.1" cy="721.6" r="2.0"/>
<circle cx="359.5" cy="728.2" r="2.0"/>
<circle cx="379.9" cy="731.3" r="2.0"/>
<circle cx="363.5" cy="729.3" r="2.0"/>
<circle cx="352.7" cy="726.3" r="2.0"/>
<circle cx="365.1" cy="739.2" r="2.0"/>
<circle cx="370.2" cy="726.7" r="2.0"/>
<circle cx="360.1" cy="728.7" r="2.0"/>
<circle cx="372.0" cy="723.4" r="2.0"/>
<circle cx="349.4" cy="741.1" r="2.0"/>
<circle cx="357.6" cy="727.8" r="2.0"/>
<circle cx="354.5" cy="728.5" r="2.0"/>
<circle cx="366.7" cy="728.1" r="2.0"/>
<circle cx="366.9" cy="721.6" r="2.0"/>
<circle cx="364.5" cy="735.2" r="2.0"/>
<circle cx="355.4" cy="742.6" r="2.0"/>
<circle cx="381.0" cy="737.1" r="2.0"/>
<circle cx="359.3" cy="724.3" r="2.0"/>
<circle cx="368.3" cy="727.5" r="2.0"/>
<circle cx="348.9" cy="733.8" r="2.0"/>
<circle cx="350.4" cy="736.6" r="2.0"/>
<circle cx="368.6" cy="725.0" r="2.0"/>
<circle cx="356.2" cy="738.8" r="2.0"/>
<circle cx="373.7" cy="729.0" r="2.0"/>
<circle cx="369.9" cy="722.2" r="2.0"/>
<circle cx="365.5" cy="739.3" r="2.0"/>
<circle cx="380.4" cy="739.9" r="2.0"/>
<circle cx="365.1" cy="730.4" r="2.0"/>
<circle cx="368.5" cy="736.9" r="2.0"/>
<circle cx="367.7" cy="738.6" r="2.0"/>
<circle cx="368.1" cy="742.8" r="2.0"/>
<circle cx="373.1" cy="729.9" r="2.0"/>
<circle cx="375.7" cy="729.5" r="2.0"/>
<circle cx="371.1" cy="733.0" r="2.0"/>
<circle cx="354.1" cy="736.6" r="2.0"/>
<circle cx="379.5" cy="729.3" r="2.0"/>
<circle cx="350.8" cy="739.7" r="2.0"/>
<circle cx="365.2" cy="741.6" r="2.0"/>
<circle cx="352.4" cy="740.6" r="2.0"/>
<circle cx="365.0" cy="739.7" r="2.0"/>
<circle cx="362.7" cy="737.9" r="2.0"/>
<circle cx="357.1" cy="729.8" r="2.0"/>
<circle cx="363.9" cy="720.1" r="2.0"/>
<circle cx="350.4" cy="729.1" r="2.0"/>
<circle cx="369.6" cy="725.1" r="2.0"/>
<circle cx="369.3" cy="730.7" r="2.0"/>
<circle cx="374.9" cy="738.6" r="2.0"/>
<circle cx="376.3" cy="734.5" r="2.0"/>
<circle cx="367.8" cy="722.5" r="2.0"/>
<circle cx="360.0" cy="730.2" r="2.0"/>
<circle cx="352.8" cy="729.5" r="2.0"/>
<circle cx="379.2" cy="725.8" r="2.0"/>
<circle cx="346.8" cy="728.7" r="2.0"/>
<circle cx="380.3" cy="734.2" r="2.0"/>
<circle cx="343.1" cy="733.8" r="2.0"/>
<circle cx="349.3" cy="732.6" r="2.0"/>
<circle cx="358.7" cy="740.3" r="2.0"/>
<circle cx="362.7" cy="722.1" r="2.0"/>
<circle cx="358.8" cy="741.1" r="2.0"/>
<circle cx="374.7" cy="738.8" r="2.0"/>
<circle cx="371.5" cy="741.3" r="2.0"/>
<circle cx="378.7" cy="728.8" r="2.0"/>
<circle cx="357.9" cy="736.1" r="2.0"/>
<circle cx="347.0" cy="728.0" r="2.0"/>
<circle cx="357.6" cy="725.3" r="2.0"/>
<circle cx="349.8" cy="737.0" r="2.0"/>
<circle cx="355.0" cy="721.5" r="2.0"/>
<circle cx="351.4" cy="737.8" r="2.0"/>
<circle cx="348.9" cy="736.7" r="2.0"/>
<circle cx="365.5" cy="741.4" r="2.0"/>
<circle cx="369.7" cy="739.6" r="2.0"/>
<circle cx="378.7" cy="735.2" r="2.0"/>
<circle cx="351.5" cy="724.2" r="2.0"/>
<circle cx="378.0" cy="741.3" r="2.0"/>
<circle cx="369.1" cy="744.8" r="2.0"/>
<circle cx="376.0" cy="730.5" r="2.0"/>
<circle cx="349.8" cy="731.1" r="2.0"/>
<circle cx="360.8" cy="743.7" r="2.0"/>
<circle cx="374.5" cy="731.5" r="2.0"/>
<circle cx="355.4" cy="745.0" r="2.0"/>
<circle cx="342.7" cy="732.6" r="2.0"/>
<circle cx="379.1" cy="738.2" r="2.0"/>
<circle cx="379.3" cy="727.1" r="2.0"/>
<circle cx="365.5" cy="745.4" r="2.0"/>
<circle cx="347.6" cy="731.2" r="2.0"/>
<circle cx="374.5" cy="739.5" r="2.0"/>
<circle cx="374.8" cy="723.4" r="2.0"/>
<circle cx="362.1" cy="720.8" r="2.0"/>
<circle cx="374.9" cy="735.2" r="2.0"/>
<circle cx="373.3" cy="722.1" r="2.0"/>
<circle cx="362.1" cy="741.0" r="2.0"/>
<circle cx="372.6" cy="724.5" r="2.0"/>
<circle cx="355.8" cy="731.8" r="2.0"/>
<circle cx="361.3" cy="745.7" r="2.0"/>
<circle cx="368.0" cy="723.6" r="2.0"/>
<circle cx="378.3" cy="733.7" r="2.0"/>
<circle cx="361.5" cy="740.2" r="2.0"/>
<circle cx="360.6" cy="730.8" r="2.0"/>
<circle cx="372.8" cy="729.6" r="2.0"/>
<circle cx="362.8" cy="730.3" r="2.0"/>
<circle cx="370.3" cy="721.8" r="2.0"/>
<circle cx="361.4" cy="735.1" r="2.0"/>
<circle cx="370.8" cy="743.5" r="2.0"/>
<circle cx="357.6" cy="745.0" r="2.0"/>
<circle cx="371.5" cy="730.0" r="2.0"/>
<circle cx="365.6" cy="729.4" r="2.0"/>
<circle cx="369.4" cy="720.6" r="2.0"/>
<circle cx="379.7" cy="729.3" r="2.0"/>
<circle cx="356.2" cy="726.8" r="2.0"/>
<circle cx="377.2" cy="729.8" r="2.0"/>
<circle cx="380.5" cy="727.2" r="2.0"/>
<circle cx="356.5" cy="744.7" r="2.0"/>
<circle cx="371.2" cy="728.8" r="2.0"/>
<circle cx="355.6" cy="728.1" r="2.0"/>
<circle cx="349.1" cy="740.6" r="2.0"/>
<circle cx="367.0" cy="742.5" r="2.0"/>
<circle cx="347.5" cy="739.2" r="2.0"/>
<circle cx="374.5" cy="729.9" r="2.0"/>
<circle cx="368.4" cy="739.8" r="2.0"/>
<circle cx="351.1" cy="740.6" r="2.0"/>
<circle cx="354.3" cy="731.5" r="2.0"/>
<circle cx="345.9" cy="731.1" r="2.0"/>
<circle cx="348.6" cy="741.7" r="2.0"/>
<circle cx="345.6" cy="739.8" r="2.0"/>
<circle cx="354.3" cy="732.0" r="2.0"/>
<circle cx="348.5" cy="743.0" r="2.0"/>
<circle cx="345.5" cy="729.8" r="2.0"/>
<circle cx="343.4" cy="731.7" r="2.0"/>
<circle cx="345.2" cy="732.9" r="2.0"/>
<circle cx="342.9" cy="737.3" r="2.0"/>
<circle cx="342.6" cy="729.3" r="2.0"/>
<circle cx="346.4" cy="744.8" r="2.0"/>
<circle cx="343.4" cy="727.4" r="2.0"/>
<circle cx="351.4" cy="737.0" r="2.0"/>
<circle cx="342.2" cy="738.2" r="2.0"/>
<circle cx="342.8" cy="742.9" r="2.0"/>
<circle cx="344.9" cy="738.1" r="2.0"/>
<circle cx="351.7" cy="739.9" r="2.0"/>
<circle cx="344.0" cy="730.2" r="2.0"/>
<circle cx="348.3" cy="735.6" r="2.0"/>
<circle cx="350.4" cy="724.6" r="2.0"/>
<circle cx="351.9" cy="727.2" r="2.0"/>
<circle cx="351.0" cy="734.0" r="2.0"/>
<circle cx="354.3" cy="738.3" r="2.0"/>
<circle cx="353.3" cy="732.2" r="2.0"/>
<circle cx="342.7" cy="738.7" r="2.0"/>
<circle cx="339.3" cy="733.5" r="2.0"/>
<circle cx="346.4" cy="733.8" r="2.0"/>
<circle cx="352.2" cy="729.9" r="2.0"/>
<circle cx="402.0" cy="733.8" r="2.0"/>
<circle cx="406.9" cy="734.8" r="2.0"/>
<circle cx="377.9" cy="721.4" r="2.0"/>
<circle cx="380.7" cy="723.6" r="2.0"/>
<circle cx="429.6" cy="745.5" r="2.0"/>
<circle cx="417.2" cy="738.7" r="2.0"/>
<circle cx="406.3" cy="725.3" r="2.0"/>
<circle cx="390.9" cy="726.5" r="2.0"/>
<circle cx="405.4" cy="735.6" r="2.0"/>
<circle cx="418.5" cy="729.2" r="2.0"/>
<circle cx="400.4" cy="743.3" r="2.0"/>
<circle cx="385.6" cy="737.6" r="2.0"/>
<circle cx="412.9" cy="725.0" r="2.0"/>
<circle cx="394.0" cy="734.1" r="2.0"/>
<circle cx="418.2" cy="733.3" r="2.0"/>
<circle cx="393.3" cy="730.1" r="2.0"/>
<circle cx="395.9" cy="730.0" r="2.0"/>
<circle cx="392.6" cy="742.2" r="2.0"/>
<circle cx="392.4" cy="737.8" r="2.0"/>
<circle cx="401.6" cy="740.6" r="2.0"/>
<circle cx="394.7" cy="737.4" r="2.0"/>
<circle cx="391.3" cy="723.0" r="2.0"/>
<circle cx="381.5" cy="745.6" r="2.0"/>
<circle cx="396.7" cy="734.7" r="2.0"/>
<circle cx="410.2" cy="749.3" r="2.0"/>
<circle cx="400.7" cy="727.8" r="2.0"/>
<circle cx="424.6" cy="741.0" r="2.0"/>
<circle cx="380.5" cy="735.1" r="2.0"/>
<circle cx="392.8" cy="744.7" r="2.0"/>
<circle cx="418.1" cy="743.8" r="2.0"/>
<circle cx="421.2" cy="732.4" r="2.0"/>
<circle cx="403.3" cy="739.3" r="2.0"/>
<circle cx="383.3" cy="731.3" r="2.0"/>
<circle cx="400.4" cy="728.7" r="2.0"/>
<circle cx="379.1" cy="731.9" r="2.0"/>
<circle cx="415.0" cy="733.1" r="2.0"/>
<circle cx="411.9" cy="742.3" r="2.0"/>
<circle cx="386.0" cy="738.4" r="2.0"/>
<circle cx="381.4" cy="736.1" r="2.0"/>
<circle cx="404.7" cy="734.5" r="2.0"/>
<circle cx="392.4" cy="735.8" r="2.0"/>
<circle cx="386.3" cy="745.6" r="2.0"/>
<circle cx="392.5" cy="751.9" r="2.0"/>
<circle cx="391.8" cy="734.6" r="2.0"/>
<circle cx="399.0" cy="732.3" r="2.0"/>
<circle cx="401.8" cy="733.4" r="2.0"/>
<circle cx="388.5" cy="744.1" r="2.0"/>
<circle cx="386.6" cy="728.9" r="2.0"/>
<circle cx="408.9" cy="738.9" r="2.0"/>
<circle cx="401.8" cy="723.7" r="2.0"/>
<circle cx="407.9" cy="734.2" r="2.0"/>
<circle cx="394.2" cy="746.4" r="2.0"/>
<circle cx="407.5" cy="724.9" r="2.0"/>
<circle cx="385.8" cy="735.2" r="2.0"/>
<circle cx="390.2" cy="730.9" r="2.0"/>
<circle cx="395.0" cy="736.1" r="2.0"/>
<circle cx="385.6" cy="741.7" r="2.0"/>
<circle cx="377.3" cy="733.9" r="2.0"/>
<circle cx="405.8" cy="747.5" r="2.0"/>
<circle cx="380.0" cy="724.8" r="2.0"/>
<circle cx="406.2" cy="727.2" r="2.0"/>
<circle cx="390.8" cy="749.9" r="2.0"/>
<circle cx="398.6" cy="741.2" r="2.0"/>
<circle cx="402.1" cy="729.2" r="2.0"/>
<circle cx="413.7" cy="748.2" r="2.0"/>
<circle cx="391.4" cy="735.2" r="2.0"/>
<circle cx="385.7" cy="741.3" r="2.0"/>
<circle cx="389.3" cy="747.0" r="2.0"/>
<circle cx="394.9" cy="738.9" r="2.0"/>
<circle cx="407.3" cy="728.9" r="2.0"/>
<circle cx="381.1" cy="723.5" r="2.0"/>
<circle cx="387.1" cy="741.1" r="2.0"/>
<circle cx="385.1" cy="742.9" r="2.0"/>
<circle cx="384.6" cy="733.8" r="2.0"/>
<circle cx="394.0" cy="735.3" r="2.0"/>
<circle cx="398.7" cy="727.3" r="2.0"/>
<circle cx="377.4" cy="741.6" r="2.0"/>
<circle cx="379.3" cy="735.7" r="2.0"/>
<circle cx="388.5" cy="736.5" r="2.0"/>
<circle cx="385.0" cy="732.7" r="2.0"/>
<circle cx="393.1" cy="740.0" r="2.0"/>
<circle cx="394.0" cy="728.3" r="2.0"/>
<circle cx="377.2" cy="732.0" r="2.0"/>
<circle cx="381.1" cy="732.5" r="2.0"/>
<circle cx="392.4" cy="747.9" r="2.0"/>
<circle cx="392.5" cy="732.0" r="2.0"/>
<circle cx="403.4" cy="741.1" r="2.0"/>
<circle cx="397.8" cy="730.2" r="2.0"/>
<circle cx="396.6" cy="743.3" r="2.0"/>
<circle cx="387.2" cy="742.4" r="2.0"/>
<circle cx="420.8" cy="734.8" r="2.0"/>
<circle cx="397.6" cy="744.2" r="2.0"/>
<circle cx="419.8" cy="752.0" r="2.0"/>
<circle cx="391.7" cy="751.9" r="2.0"/>
<circle cx="396.4" cy="740.9" r="2.0"/>
<circle cx="386.2" cy="741.2" r="2.0"/>
<circle cx="385.1" cy="741.8" r="2.0"/>
<circle cx="387.4" cy="737.8" r="2.0"/>
<circle cx="376.9" cy="728.3" r="2.0"/>
<circle cx="395.4" cy="739.7" r="2.0"/>
</g>
<g>
<text x="801.6" y="529.3" font-size="24.5" fill="#111111" font-weight="bold">D</text>
<line x1="882.4" y1="539.1" x2="882.4" y2="898.3" stroke="#6e7175" stroke-width="2.2"/>
<line x1="879.9" y1="556.7" x2="882.4" y2="556.7" stroke="#6e7175" stroke-width="1.2"/>
<text x="879.4" y="563.0" font-size="16.5" fill="#505256" font-weight="bold" text-anchor="end">2</text>
<line x1="879.9" y1="642.1" x2="882.4" y2="642.1" stroke="#6e7175" stroke-width="1.2"/>
<text x="879.4" y="648.4" font-size="16.5" fill="#505256" font-weight="bold" text-anchor="end">1</text>
<line x1="879.9" y1="727.5" x2="882.4" y2="727.5" stroke="#6e7175" stroke-width="1.2"/>
<text x="879.4" y="733.8" font-size="16.5" fill="#505256" font-weight="bold" text-anchor="end">0</text>
<line x1="879.9" y1="812.9" x2="882.4" y2="812.9" stroke="#6e7175" stroke-width="1.2"/>
<text x="879.4" y="819.2" font-size="16.5" fill="#505256" font-weight="bold" text-anchor="end">-1</text>
<line x1="879.9" y1="898.3" x2="882.4" y2="898.3" stroke="#6e7175" stroke-width="1.2"/>
<text x="879.4" y="904.6" font-size="16.5" fill="#505256" font-weight="bold" text-anchor="end">-2</text>
<line x1="905.0" y1="916.1" x2="1319.5" y2="916.1" stroke="#6e7175" stroke-width="2.2"/>
<text x="905.1" y="931.5" font-size="16.8" fill="#505256" font-weight="bold" text-anchor="middle">-1.5</text>
<text x="987.9" y="931.5" font-size="16.8" fill="#505256" font-weight="bold" text-anchor="middle">-1.0</text>
<text x="1070.7" y="931.5" font-size="16.8" fill="#505256" font-weight="bold" text-anchor="middle">-0.5</text>
<text x="1153.5" y="931.5" font-size="16.8" fill="#505256" font-weight="bold" text-anchor="middle">0.0</text>
<text x="1236.3" y="931.5" font-size="16.8" fill="#505256" font-weight="bold" text-anchor="middle">0.5</text>
<text x="1319.1" y="931.5" font-size="16.8" fill="#505256" font-weight="bold" text-anchor="middle">1.0</text>
<line x1="885.0" y1="715.6" x2="1399.5" y2="715.6" stroke="#afb1b4" stroke-width="2.2" stroke-dasharray="2.1 1.775"/>
<line x1="885.0" y1="742.0" x2="1399.5" y2="742.0" stroke="#afb1b4" stroke-width="2.2" stroke-dasharray="2.1 1.775"/>
<line x1="885.0" y1="768.4" x2="1399.5" y2="768.4" stroke="#afb1b4" stroke-width="2.2" stroke-dasharray="2.1 1.775"/>
<text x="0" y="0" transform="translate(964.6,952.4) scale(0.96,1)" font-size="20.9" fill="#262626" font-weight="bold" textLength="385.4" lengthAdjust="spacing">Sternocleidomastoid onset (dP, sec)</text>
<text x="0" y="0" transform="translate(967.8,975.2) scale(0.96,1)" font-size="20.9" fill="#262626" font-weight="bold" textLength="370.8" lengthAdjust="spacing">Average between Assessor 1 and 2</text>
<text x="0" y="0" transform="translate(836.8,905.8) rotate(-90) scale(0.96,1)" font-size="20.9" fill="#262626" font-weight="bold" textLength="389.6" lengthAdjust="spacing">Sternocleidomastoid onset (dP, sec)</text>
<text x="0" y="0" transform="translate(859.9,869.5) rotate(-90) scale(0.96,1)" font-size="20.9" fill="#262626" font-weight="bold" textLength="325.5" lengthAdjust="spacing">Diff between Assessor 1 and 2</text>
<text x="1422.75" y="721.8" font-size="18.6" fill="#1e1e1e" font-weight="bold" stroke="#1e1e1e" stroke-width="0.35" textLength="81.74" lengthAdjust="spacingAndGlyphs">UL: 0.139</text>
<text x="1418.15" y="748.9" font-size="18.6" fill="#1e1e1e" font-weight="bold" stroke="#1e1e1e" stroke-width="0.35" textLength="102.54" lengthAdjust="spacingAndGlyphs">AVG: -0.171</text>
<text x="1420.65" y="775.0" font-size="18.6" fill="#1e1e1e" font-weight="bold" stroke="#1e1e1e" stroke-width="0.35" textLength="83.83" lengthAdjust="spacingAndGlyphs">LL: -0.480</text>
<text x="1251.85" y="875.6" font-size="18.6" fill="#1e1e1e" font-weight="bold" stroke="#1e1e1e" stroke-width="0.75" textLength="32.86" lengthAdjust="spacingAndGlyphs">ICC:</text>
<text x="1291.15" y="875.6" font-size="18.6" fill="#1e1e1e" font-weight="bold" stroke="#1e1e1e" stroke-width="0.35" textLength="35.13" lengthAdjust="spacingAndGlyphs">0.81</text>
<text x="1335.05" y="875.6" font-size="18.6" fill="#1e1e1e" font-weight="bold" stroke="#1e1e1e" stroke-width="0.35" textLength="96.54" lengthAdjust="spacingAndGlyphs">(0.78-0.83)</text>
<text x="1445.25" y="875.6" font-size="18.6" fill="#1e1e1e" font-weight="bold" stroke="#1e1e1e" stroke-width="0.35" textLength="69.52" lengthAdjust="spacingAndGlyphs"><tspan font-style="italic">P</tspan>&lt;0.001</text>
<text x="1251.85" y="901.9" font-size="18.6" fill="#1e1e1e" font-weight="bold" stroke="#1e1e1e" stroke-width="0.35" textLength="53.45" lengthAdjust="spacingAndGlyphs">n=576</text>
<circle cx="936.8" cy="729.3" r="2.0"/>
<circle cx="974.3" cy="743.6" r="2.0"/>
<circle cx="993.0" cy="732.7" r="2.0"/>
<circle cx="1012.6" cy="736.2" r="2.0"/>
<circle cx="1018.5" cy="730.3" r="2.0"/>
<circle cx="1030.7" cy="736.2" r="2.0"/>
<circle cx="1031.0" cy="758.0" r="2.0"/>
<circle cx="1054.2" cy="730.8" r="2.0"/>
<circle cx="1051.6" cy="736.6" r="2.0"/>
<circle cx="1049.4" cy="740.6" r="2.0"/>
<circle cx="1061.9" cy="753.3" r="2.0"/>
<circle cx="1068.5" cy="761.4" r="2.0"/>
<circle cx="1070.7" cy="730.8" r="2.0"/>
<circle cx="1074.4" cy="732.2" r="2.0"/>
<circle cx="1073.7" cy="736.6" r="2.0"/>
<circle cx="1071.4" cy="741.8" r="2.0"/>
<circle cx="1083.2" cy="733.3" r="2.0"/>
<circle cx="1086.9" cy="732.2" r="2.0"/>
<circle cx="1092.0" cy="728.8" r="2.0"/>
<circle cx="1095.7" cy="730.8" r="2.0"/>
<circle cx="1098.7" cy="729.3" r="2.0"/>
<circle cx="1097.9" cy="735.6" r="2.0"/>
<circle cx="1090.6" cy="743.6" r="2.0"/>
<circle cx="1085.7" cy="755.0" r="2.0"/>
<circle cx="1094.3" cy="755.8" r="2.0"/>
<circle cx="1095.7" cy="754.3" r="2.0"/>
<circle cx="1093.5" cy="762.8" r="2.0"/>
<circle cx="1084.7" cy="772.0" r="2.0"/>
<circle cx="1088.7" cy="777.6" r="2.0"/>
<circle cx="1096.9" cy="772.3" r="2.0"/>
<circle cx="1037.9" cy="792.9" r="2.0"/>
<circle cx="1045.3" cy="792.1" r="2.0"/>
<circle cx="1116.1" cy="720.5" r="2.0"/>
<circle cx="1082.2" cy="733.0" r="2.0"/>
<circle cx="1085.9" cy="732.2" r="2.0"/>
<circle cx="1091.8" cy="728.5" r="2.0"/>
<circle cx="1096.2" cy="730.8" r="2.0"/>
<circle cx="1099.1" cy="728.5" r="2.0"/>
<circle cx="1098.4" cy="735.2" r="2.0"/>
<circle cx="1103.6" cy="733.0" r="2.0"/>
<circle cx="1090.3" cy="743.6" r="2.0"/>
<circle cx="1110.6" cy="733.7" r="2.0"/>
<circle cx="1085.6" cy="755.0" r="2.0"/>
<circle cx="1094.7" cy="755.0" r="2.0"/>
<circle cx="1096.2" cy="753.6" r="2.0"/>
<circle cx="1101.8" cy="751.1" r="2.0"/>
<circle cx="1108.0" cy="756.1" r="2.0"/>
<circle cx="1093.5" cy="762.7" r="2.0"/>
<circle cx="1105.8" cy="767.6" r="2.0"/>
<circle cx="1084.7" cy="773.0" r="2.0"/>
<circle cx="1088.5" cy="777.6" r="2.0"/>
<circle cx="1096.9" cy="772.3" r="2.0"/>
<circle cx="1110.2" cy="772.3" r="2.0"/>
<circle cx="1113.9" cy="791.8" r="2.0"/>
<circle cx="1121.7" cy="792.1" r="2.0"/>
<circle cx="1117.5" cy="839.7" r="2.0"/>
<circle cx="1144.0" cy="831.9" r="2.0"/>
<circle cx="1170.5" cy="811.3" r="2.0"/>
<circle cx="1180.5" cy="801.9" r="2.0"/>
<circle cx="1168.8" cy="792.1" r="2.0"/>
<circle cx="1188.2" cy="791.8" r="2.0"/>
<circle cx="1184.1" cy="781.8" r="2.0"/>
<circle cx="1199.7" cy="805.4" r="2.0"/>
<circle cx="1215.4" cy="772.3" r="2.0"/>
<circle cx="1215.7" cy="783.3" r="2.0"/>
<circle cx="1163.5" cy="771.2" r="2.0"/>
<circle cx="1143.3" cy="777.1" r="2.0"/>
<circle cx="1145.5" cy="773.4" r="2.0"/>
<circle cx="1147.0" cy="770.5" r="2.0"/>
<circle cx="1140.1" cy="772.3" r="2.0"/>
<circle cx="1135.6" cy="763.6" r="2.0"/>
<circle cx="1143.3" cy="764.2" r="2.0"/>
<circle cx="1150.7" cy="761.4" r="2.0"/>
<circle cx="1154.3" cy="766.8" r="2.0"/>
<circle cx="1159.2" cy="762.4" r="2.0"/>
<circle cx="1121.9" cy="760.9" r="2.0"/>
<circle cx="1124.2" cy="757.3" r="2.0"/>
<circle cx="1114.6" cy="749.2" r="2.0"/>
<circle cx="1116.1" cy="752.1" r="2.0"/>
<circle cx="1177.1" cy="724.9" r="2.0"/>
<circle cx="1193.3" cy="725.3" r="2.0"/>
<circle cx="1188.9" cy="730.8" r="2.0"/>
<circle cx="1188.9" cy="735.2" r="2.0"/>
<circle cx="1197.7" cy="733.0" r="2.0"/>
<circle cx="1199.2" cy="738.1" r="2.0"/>
<circle cx="1205.1" cy="735.2" r="2.0"/>
<circle cx="1200.7" cy="741.1" r="2.0"/>
<circle cx="1195.2" cy="744.7" r="2.0"/>
<circle cx="1210.7" cy="743.6" r="2.0"/>
<circle cx="1210.3" cy="752.1" r="2.0"/>
<circle cx="1218.7" cy="735.2" r="2.0"/>
<circle cx="1218.7" cy="741.1" r="2.0"/>
<circle cx="1218.4" cy="747.0" r="2.0"/>
<circle cx="1222.0" cy="749.2" r="2.0"/>
<circle cx="1222.0" cy="752.1" r="2.0"/>
<circle cx="1239.0" cy="735.2" r="2.0"/>
<circle cx="1180.1" cy="755.0" r="2.0"/>
<circle cx="1181.6" cy="759.8" r="2.0"/>
<circle cx="1186.0" cy="755.8" r="2.0"/>
<circle cx="1188.9" cy="760.2" r="2.0"/>
<circle cx="1191.6" cy="764.3" r="2.0"/>
<circle cx="1198.2" cy="761.4" r="2.0"/>
<circle cx="1178.6" cy="747.0" r="2.0"/>
<circle cx="1179.4" cy="734.4" r="2.0"/>
<circle cx="1239.7" cy="735.2" r="2.0"/>
<circle cx="1246.1" cy="731.6" r="2.0"/>
<circle cx="1243.1" cy="739.3" r="2.0"/>
<circle cx="1245.5" cy="737.4" r="2.0"/>
<circle cx="1246.1" cy="743.5" r="2.0"/>
<circle cx="1257.1" cy="768.9" r="2.0"/>
<circle cx="1278.2" cy="745.2" r="2.0"/>
<circle cx="1275.4" cy="748.7" r="2.0"/>
<circle cx="1276.3" cy="750.4" r="2.0"/>
<circle cx="1284.3" cy="750.9" r="2.0"/>
<circle cx="1289.8" cy="739.9" r="2.0"/>
<circle cx="1288.7" cy="741.5" r="2.0"/>
<circle cx="1292.6" cy="743.0" r="2.0"/>
<circle cx="1304.0" cy="749.3" r="2.0"/>
<circle cx="1318.0" cy="757.6" r="2.0"/>
<circle cx="1327.2" cy="740.4" r="2.0"/>
<circle cx="1342.4" cy="757.6" r="2.0"/>
<circle cx="1375.6" cy="732.1" r="2.0"/>
<circle cx="1130.3" cy="738.3" r="2.0"/>
<circle cx="1143.9" cy="727.0" r="2.0"/>
<circle cx="1122.7" cy="737.4" r="2.0"/>
<circle cx="1129.4" cy="734.1" r="2.0"/>
<circle cx="1138.7" cy="731.6" r="2.0"/>
<circle cx="1136.5" cy="725.0" r="2.0"/>
<circle cx="1136.8" cy="751.6" r="2.0"/>
<circle cx="1119.1" cy="733.5" r="2.0"/>
<circle cx="1132.3" cy="749.9" r="2.0"/>
<circle cx="1123.7" cy="729.5" r="2.0"/>
<circle cx="1138.2" cy="746.8" r="2.0"/>
<circle cx="1131.1" cy="722.7" r="2.0"/>
<circle cx="1139.4" cy="744.3" r="2.0"/>
<circle cx="1137.6" cy="731.7" r="2.0"/>
<circle cx="1142.9" cy="741.0" r="2.0"/>
<circle cx="1135.7" cy="738.3" r="2.0"/>
<circle cx="1125.0" cy="735.6" r="2.0"/>
<circle cx="1141.8" cy="742.7" r="2.0"/>
<circle cx="1128.4" cy="746.9" r="2.0"/>
<circle cx="1122.7" cy="728.4" r="2.0"/>
<circle cx="1137.4" cy="738.3" r="2.0"/>
<circle cx="1124.0" cy="725.0" r="2.0"/>
<circle cx="1128.2" cy="747.5" r="2.0"/>
<circle cx="1136.2" cy="723.3" r="2.0"/>
<circle cx="1131.0" cy="723.0" r="2.0"/>
<circle cx="1136.7" cy="725.3" r="2.0"/>
<circle cx="1123.4" cy="741.4" r="2.0"/>
<circle cx="1143.1" cy="740.7" r="2.0"/>
<circle cx="1126.8" cy="741.5" r="2.0"/>
<circle cx="1126.2" cy="742.8" r="2.0"/>
<circle cx="1136.8" cy="727.5" r="2.0"/>
<circle cx="1143.2" cy="747.3" r="2.0"/>
<circle cx="1125.9" cy="723.5" r="2.0"/>
<circle cx="1133.4" cy="748.3" r="2.0"/>
<circle cx="1136.0" cy="738.4" r="2.0"/>
<circle cx="1132.6" cy="730.3" r="2.0"/>
<circle cx="1127.0" cy="734.0" r="2.0"/>
<circle cx="1134.4" cy="750.7" r="2.0"/>
<circle cx="1120.2" cy="729.3" r="2.0"/>
<circle cx="1146.3" cy="741.9" r="2.0"/>
<circle cx="1120.2" cy="735.2" r="2.0"/>
<circle cx="1137.5" cy="749.8" r="2.0"/>
<circle cx="1141.1" cy="730.1" r="2.0"/>
<circle cx="1134.0" cy="747.1" r="2.0"/>
<circle cx="1125.3" cy="743.2" r="2.0"/>
<circle cx="1134.8" cy="723.8" r="2.0"/>
<circle cx="1126.2" cy="734.3" r="2.0"/>
<circle cx="1125.5" cy="728.7" r="2.0"/>
<circle cx="1135.9" cy="737.9" r="2.0"/>
<circle cx="1127.6" cy="731.6" r="2.0"/>
<circle cx="1132.9" cy="749.7" r="2.0"/>
<circle cx="1146.1" cy="742.7" r="2.0"/>
<circle cx="1142.1" cy="733.3" r="2.0"/>
<circle cx="1138.6" cy="735.4" r="2.0"/>
<circle cx="1124.6" cy="742.9" r="2.0"/>
<circle cx="1127.3" cy="738.1" r="2.0"/>
<circle cx="1124.4" cy="725.5" r="2.0"/>
<circle cx="1121.6" cy="733.6" r="2.0"/>
<circle cx="1133.0" cy="741.3" r="2.0"/>
<circle cx="1127.2" cy="725.5" r="2.0"/>
<circle cx="1145.6" cy="741.1" r="2.0"/>
<circle cx="1138.4" cy="742.9" r="2.0"/>
<circle cx="1127.7" cy="739.9" r="2.0"/>
<circle cx="1127.6" cy="741.7" r="2.0"/>
<circle cx="1141.9" cy="725.1" r="2.0"/>
<circle cx="1134.9" cy="748.1" r="2.0"/>
<circle cx="1130.9" cy="750.7" r="2.0"/>
<circle cx="1125.4" cy="730.0" r="2.0"/>
<circle cx="1122.5" cy="729.7" r="2.0"/>
<circle cx="1130.1" cy="746.2" r="2.0"/>
<circle cx="1137.8" cy="726.8" r="2.0"/>
<circle cx="1123.4" cy="735.5" r="2.0"/>
<circle cx="1144.7" cy="736.1" r="2.0"/>
<circle cx="1141.7" cy="742.9" r="2.0"/>
<circle cx="1144.3" cy="736.9" r="2.0"/>
<circle cx="1129.3" cy="735.7" r="2.0"/>
<circle cx="1142.1" cy="730.1" r="2.0"/>
<circle cx="1123.8" cy="747.4" r="2.0"/>
<circle cx="1132.4" cy="741.4" r="2.0"/>
<circle cx="1124.8" cy="734.8" r="2.0"/>
<circle cx="1146.3" cy="735.0" r="2.0"/>
<circle cx="1127.1" cy="726.9" r="2.0"/>
<circle cx="1137.1" cy="742.1" r="2.0"/>
<circle cx="1127.7" cy="743.5" r="2.0"/>
<circle cx="1144.3" cy="732.0" r="2.0"/>
<circle cx="1132.9" cy="721.7" r="2.0"/>
<circle cx="1135.7" cy="730.6" r="2.0"/>
<circle cx="1137.6" cy="745.0" r="2.0"/>
<circle cx="1128.2" cy="742.2" r="2.0"/>
<circle cx="1141.9" cy="736.3" r="2.0"/>
<circle cx="1129.5" cy="726.5" r="2.0"/>
<circle cx="1125.8" cy="749.1" r="2.0"/>
<circle cx="1133.9" cy="732.6" r="2.0"/>
<circle cx="1134.7" cy="747.3" r="2.0"/>
<circle cx="1132.9" cy="750.8" r="2.0"/>
<circle cx="1128.0" cy="728.6" r="2.0"/>
<circle cx="1144.5" cy="738.0" r="2.0"/>
<circle cx="1137.2" cy="725.0" r="2.0"/>
<circle cx="1141.9" cy="745.6" r="2.0"/>
<circle cx="1136.9" cy="739.4" r="2.0"/>
<circle cx="1131.0" cy="743.0" r="2.0"/>
<circle cx="1129.7" cy="750.2" r="2.0"/>
<circle cx="1135.7" cy="742.4" r="2.0"/>
<circle cx="1134.0" cy="725.0" r="2.0"/>
<circle cx="1133.8" cy="750.0" r="2.0"/>
<circle cx="1124.2" cy="729.4" r="2.0"/>
<circle cx="1126.3" cy="728.7" r="2.0"/>
<circle cx="1142.4" cy="738.1" r="2.0"/>
<circle cx="1120.6" cy="737.3" r="2.0"/>
<circle cx="1138.9" cy="733.9" r="2.0"/>
<circle cx="1123.8" cy="739.1" r="2.0"/>
<circle cx="1130.8" cy="734.5" r="2.0"/>
<circle cx="1127.9" cy="722.7" r="2.0"/>
<circle cx="1127.8" cy="741.2" r="2.0"/>
<circle cx="1134.1" cy="739.7" r="2.0"/>
<circle cx="1140.9" cy="743.6" r="2.0"/>
<circle cx="1137.7" cy="751.3" r="2.0"/>
<circle cx="1127.2" cy="744.2" r="2.0"/>
<circle cx="1126.7" cy="740.1" r="2.0"/>
<circle cx="1145.2" cy="735.6" r="2.0"/>
<circle cx="1132.7" cy="728.9" r="2.0"/>
<circle cx="1146.6" cy="742.4" r="2.0"/>
<circle cx="1127.8" cy="730.0" r="2.0"/>
<circle cx="1147.4" cy="738.8" r="2.0"/>
<circle cx="1141.3" cy="729.0" r="2.0"/>
<circle cx="1143.2" cy="743.4" r="2.0"/>
<circle cx="1144.2" cy="736.5" r="2.0"/>
<circle cx="1145.5" cy="739.1" r="2.0"/>
<circle cx="1127.0" cy="750.1" r="2.0"/>
<circle cx="1134.5" cy="733.9" r="2.0"/>
<circle cx="1133.6" cy="733.0" r="2.0"/>
<circle cx="1130.0" cy="741.2" r="2.0"/>
<circle cx="1137.0" cy="749.8" r="2.0"/>
<circle cx="1128.5" cy="751.1" r="2.0"/>
<circle cx="1132.7" cy="741.5" r="2.0"/>
<circle cx="1130.5" cy="745.8" r="2.0"/>
<circle cx="1129.7" cy="741.4" r="2.0"/>
<circle cx="1125.7" cy="727.3" r="2.0"/>
<circle cx="1137.3" cy="735.8" r="2.0"/>
<circle cx="1123.3" cy="734.9" r="2.0"/>
<circle cx="1130.7" cy="734.9" r="2.0"/>
<circle cx="1120.6" cy="730.8" r="2.0"/>
<circle cx="1130.3" cy="744.9" r="2.0"/>
<circle cx="1121.5" cy="741.1" r="2.0"/>
<circle cx="1129.4" cy="745.5" r="2.0"/>
<circle cx="1138.4" cy="727.4" r="2.0"/>
<circle cx="1139.2" cy="733.0" r="2.0"/>
<circle cx="1127.4" cy="737.5" r="2.0"/>
<circle cx="1126.8" cy="733.6" r="2.0"/>
<circle cx="1135.3" cy="728.9" r="2.0"/>
<circle cx="1143.8" cy="730.3" r="2.0"/>
<circle cx="1138.7" cy="751.3" r="2.0"/>
<circle cx="1123.3" cy="735.6" r="2.0"/>
<circle cx="1127.3" cy="737.4" r="2.0"/>
<circle cx="1120.3" cy="743.0" r="2.0"/>
<circle cx="1128.3" cy="723.3" r="2.0"/>
<circle cx="1145.9" cy="737.3" r="2.0"/>
<circle cx="1125.1" cy="748.8" r="2.0"/>
<circle cx="1129.1" cy="747.0" r="2.0"/>
<circle cx="1124.2" cy="733.0" r="2.0"/>
<circle cx="1143.6" cy="746.7" r="2.0"/>
<circle cx="1119.1" cy="734.0" r="2.0"/>
<circle cx="1143.3" cy="742.8" r="2.0"/>
<circle cx="1130.5" cy="742.7" r="2.0"/>
<circle cx="1131.3" cy="747.4" r="2.0"/>
<circle cx="1126.6" cy="744.8" r="2.0"/>
<circle cx="1122.6" cy="739.8" r="2.0"/>
<circle cx="1127.4" cy="732.0" r="2.0"/>
<circle cx="1120.8" cy="742.3" r="2.0"/>
<circle cx="1138.0" cy="741.9" r="2.0"/>
<circle cx="1131.0" cy="739.8" r="2.0"/>
<circle cx="1129.7" cy="744.7" r="2.0"/>
<circle cx="1142.3" cy="747.7" r="2.0"/>
<circle cx="1138.1" cy="728.6" r="2.0"/>
<circle cx="1142.4" cy="738.9" r="2.0"/>
<circle cx="1140.2" cy="744.6" r="2.0"/>
<circle cx="1141.4" cy="742.2" r="2.0"/>
<circle cx="1130.7" cy="741.7" r="2.0"/>
<circle cx="1121.7" cy="743.0" r="2.0"/>
<circle cx="1128.3" cy="741.6" r="2.0"/>
<circle cx="1126.2" cy="728.8" r="2.0"/>
<circle cx="1122.4" cy="742.8" r="2.0"/>
<circle cx="1136.7" cy="723.7" r="2.0"/>
<circle cx="1125.8" cy="750.3" r="2.0"/>
<circle cx="1142.9" cy="734.4" r="2.0"/>
<circle cx="1126.5" cy="729.2" r="2.0"/>
<circle cx="1119.7" cy="730.4" r="2.0"/>
<circle cx="1138.9" cy="744.7" r="2.0"/>
<circle cx="1141.7" cy="728.8" r="2.0"/>
<circle cx="1123.1" cy="740.7" r="2.0"/>
<circle cx="1142.2" cy="744.4" r="2.0"/>
<circle cx="1140.2" cy="734.3" r="2.0"/>
<circle cx="1139.5" cy="749.7" r="2.0"/>
<circle cx="1136.5" cy="726.0" r="2.0"/>
<circle cx="1129.2" cy="751.6" r="2.0"/>
<circle cx="1140.1" cy="735.0" r="2.0"/>
<circle cx="1135.2" cy="734.4" r="2.0"/>
<circle cx="1145.0" cy="740.7" r="2.0"/>
<circle cx="1128.9" cy="750.5" r="2.0"/>
<circle cx="1142.5" cy="734.2" r="2.0"/>
<circle cx="1144.3" cy="735.5" r="2.0"/>
<circle cx="1132.6" cy="748.8" r="2.0"/>
<circle cx="1130.7" cy="735.0" r="2.0"/>
<circle cx="1125.1" cy="742.7" r="2.0"/>
<circle cx="1139.5" cy="742.3" r="2.0"/>
<circle cx="1132.7" cy="725.0" r="2.0"/>
<circle cx="1124.2" cy="725.4" r="2.0"/>
<circle cx="1122.3" cy="737.5" r="2.0"/>
<circle cx="1140.6" cy="743.1" r="2.0"/>
<circle cx="1136.7" cy="748.1" r="2.0"/>
<circle cx="1145.4" cy="737.3" r="2.0"/>
<circle cx="1143.2" cy="739.0" r="2.0"/>
<circle cx="1140.7" cy="746.5" r="2.0"/>
<circle cx="1145.2" cy="737.3" r="2.0"/>
<circle cx="1139.2" cy="740.3" r="2.0"/>
<circle cx="1157.3" cy="736.4" r="2.0"/>
<circle cx="1145.5" cy="741.5" r="2.0"/>
<circle cx="1149.7" cy="737.6" r="2.0"/>
<circle cx="1159.6" cy="725.2" r="2.0"/>
<circle cx="1145.4" cy="754.9" r="2.0"/>
<circle cx="1162.5" cy="746.2" r="2.0"/>
<circle cx="1155.2" cy="737.2" r="2.0"/>
<circle cx="1168.5" cy="739.8" r="2.0"/>
<circle cx="1165.9" cy="754.4" r="2.0"/>
<circle cx="1159.2" cy="752.3" r="2.0"/>
<circle cx="1149.8" cy="744.1" r="2.0"/>
<circle cx="1167.4" cy="742.3" r="2.0"/>
<circle cx="1172.5" cy="744.7" r="2.0"/>
<circle cx="1151.3" cy="726.4" r="2.0"/>
<circle cx="1160.7" cy="735.2" r="2.0"/>
<circle cx="1144.7" cy="737.7" r="2.0"/>
<circle cx="1140.8" cy="753.0" r="2.0"/>
<circle cx="1162.5" cy="743.6" r="2.0"/>
<circle cx="1145.9" cy="740.1" r="2.0"/>
<circle cx="1148.3" cy="738.3" r="2.0"/>
<circle cx="1150.4" cy="740.9" r="2.0"/>
<circle cx="1152.9" cy="748.2" r="2.0"/>
<circle cx="1163.5" cy="754.5" r="2.0"/>
<circle cx="1149.3" cy="754.3" r="2.0"/>
<circle cx="1151.5" cy="741.5" r="2.0"/>
<circle cx="1168.7" cy="743.2" r="2.0"/>
<circle cx="1154.1" cy="739.3" r="2.0"/>
<circle cx="1145.0" cy="754.7" r="2.0"/>
<circle cx="1176.5" cy="723.4" r="2.0"/>
<circle cx="1165.4" cy="740.0" r="2.0"/>
<circle cx="1144.0" cy="739.9" r="2.0"/>
<circle cx="1156.0" cy="728.8" r="2.0"/>
<circle cx="1145.3" cy="745.5" r="2.0"/>
<circle cx="1161.9" cy="744.3" r="2.0"/>
<circle cx="1145.5" cy="755.9" r="2.0"/>
<circle cx="1144.5" cy="744.4" r="2.0"/>
<circle cx="1151.3" cy="743.1" r="2.0"/>
<circle cx="1140.8" cy="736.6" r="2.0"/>
<circle cx="1148.7" cy="736.1" r="2.0"/>
<circle cx="1144.1" cy="733.2" r="2.0"/>
<circle cx="1155.6" cy="723.8" r="2.0"/>
<circle cx="1145.1" cy="741.4" r="2.0"/>
<circle cx="1150.9" cy="740.1" r="2.0"/>
<circle cx="1161.2" cy="743.6" r="2.0"/>
<circle cx="1156.0" cy="732.6" r="2.0"/>
<circle cx="1147.3" cy="730.7" r="2.0"/>
<circle cx="1150.2" cy="740.3" r="2.0"/>
<circle cx="1166.8" cy="737.2" r="2.0"/>
<circle cx="1168.9" cy="746.5" r="2.0"/>
<circle cx="1163.7" cy="733.7" r="2.0"/>
<circle cx="1148.0" cy="737.9" r="2.0"/>
<circle cx="1158.5" cy="747.9" r="2.0"/>
<circle cx="1172.2" cy="744.0" r="2.0"/>
<circle cx="1168.7" cy="741.3" r="2.0"/>
<circle cx="1148.3" cy="736.4" r="2.0"/>
<circle cx="1172.1" cy="740.8" r="2.0"/>
<circle cx="1152.2" cy="726.7" r="2.0"/>
<circle cx="1150.7" cy="741.9" r="2.0"/>
<circle cx="1163.0" cy="738.1" r="2.0"/>
<circle cx="1183.2" cy="747.1" r="2.0"/>
<circle cx="1153.9" cy="733.9" r="2.0"/>
<circle cx="1153.9" cy="737.1" r="2.0"/>
<circle cx="1168.4" cy="734.1" r="2.0"/>
<circle cx="1168.6" cy="739.7" r="2.0"/>
<circle cx="1148.5" cy="733.8" r="2.0"/>
<circle cx="1151.4" cy="743.5" r="2.0"/>
<circle cx="1147.4" cy="742.6" r="2.0"/>
<circle cx="1160.9" cy="743.9" r="2.0"/>
<circle cx="1151.3" cy="733.4" r="2.0"/>
<circle cx="1150.1" cy="738.7" r="2.0"/>
<circle cx="1172.9" cy="735.3" r="2.0"/>
<circle cx="1154.4" cy="743.3" r="2.0"/>
<circle cx="1161.1" cy="736.4" r="2.0"/>
<circle cx="1151.0" cy="731.5" r="2.0"/>
<circle cx="1163.2" cy="746.5" r="2.0"/>
<circle cx="1148.5" cy="724.1" r="2.0"/>
<circle cx="1161.6" cy="734.1" r="2.0"/>
<circle cx="1143.2" cy="730.5" r="2.0"/>
<circle cx="1157.6" cy="736.7" r="2.0"/>
<circle cx="1160.2" cy="743.5" r="2.0"/>
<circle cx="1142.1" cy="754.3" r="2.0"/>
<circle cx="1142.8" cy="736.2" r="2.0"/>
<circle cx="1166.5" cy="743.6" r="2.0"/>
<circle cx="1158.2" cy="740.3" r="2.0"/>
<circle cx="1164.7" cy="736.2" r="2.0"/>
<circle cx="1141.1" cy="735.6" r="2.0"/>
<circle cx="1177.6" cy="735.6" r="2.0"/>
<circle cx="1143.4" cy="731.7" r="2.0"/>
<circle cx="1142.5" cy="737.7" r="2.0"/>
<circle cx="1167.1" cy="745.4" r="2.0"/>
<circle cx="1171.7" cy="740.2" r="2.0"/>
<circle cx="1145.9" cy="742.0" r="2.0"/>
<circle cx="1143.4" cy="758.8" r="2.0"/>
<circle cx="1180.0" cy="731.9" r="2.0"/>
<circle cx="1183.9" cy="725.3" r="2.0"/>
<circle cx="1172.1" cy="734.3" r="2.0"/>
<circle cx="1147.7" cy="740.7" r="2.0"/>
<circle cx="1167.8" cy="737.1" r="2.0"/>
<circle cx="1147.2" cy="749.0" r="2.0"/>
<circle cx="1152.7" cy="725.6" r="2.0"/>
<circle cx="1149.7" cy="746.1" r="2.0"/>
<circle cx="1145.6" cy="743.6" r="2.0"/>
<circle cx="1145.1" cy="743.9" r="2.0"/>
<circle cx="1160.7" cy="739.0" r="2.0"/>
<circle cx="1159.2" cy="751.0" r="2.0"/>
<circle cx="1145.9" cy="733.4" r="2.0"/>
<circle cx="1161.4" cy="746.2" r="2.0"/>
<circle cx="1181.1" cy="723.9" r="2.0"/>
<circle cx="1152.8" cy="754.9" r="2.0"/>
<circle cx="1158.8" cy="724.6" r="2.0"/>
<circle cx="1155.8" cy="741.2" r="2.0"/>
<circle cx="1168.7" cy="746.9" r="2.0"/>
<circle cx="1152.3" cy="750.8" r="2.0"/>
<circle cx="1173.3" cy="755.5" r="2.0"/>
<circle cx="1154.0" cy="748.1" r="2.0"/>
<circle cx="1148.8" cy="746.8" r="2.0"/>
<circle cx="1175.3" cy="749.2" r="2.0"/>
<circle cx="1162.8" cy="745.0" r="2.0"/>
<circle cx="1170.7" cy="742.7" r="2.0"/>
<circle cx="1161.9" cy="747.1" r="2.0"/>
<circle cx="1178.1" cy="732.1" r="2.0"/>
<circle cx="1159.8" cy="737.9" r="2.0"/>
<circle cx="1160.2" cy="747.8" r="2.0"/>
<circle cx="1141.9" cy="751.5" r="2.0"/>
<circle cx="1171.0" cy="744.2" r="2.0"/>
<circle cx="1165.2" cy="741.2" r="2.0"/>
<circle cx="1140.9" cy="738.8" r="2.0"/>
<circle cx="1147.1" cy="726.3" r="2.0"/>
<circle cx="1140.2" cy="734.2" r="2.0"/>
<circle cx="1157.9" cy="758.4" r="2.0"/>
<circle cx="1136.4" cy="744.5" r="2.0"/>
<circle cx="1113.4" cy="755.4" r="2.0"/>
<circle cx="1152.7" cy="751.0" r="2.0"/>
<circle cx="1154.7" cy="753.4" r="2.0"/>
<circle cx="1138.2" cy="754.8" r="2.0"/>
<circle cx="1126.2" cy="749.7" r="2.0"/>
<circle cx="1138.4" cy="746.0" r="2.0"/>
<circle cx="1139.3" cy="750.4" r="2.0"/>
<circle cx="1156.6" cy="749.6" r="2.0"/>
<circle cx="1146.8" cy="753.2" r="2.0"/>
<circle cx="1159.2" cy="747.4" r="2.0"/>
<circle cx="1159.1" cy="755.9" r="2.0"/>
<circle cx="1122.6" cy="754.8" r="2.0"/>
<circle cx="1138.6" cy="748.6" r="2.0"/>
<circle cx="1127.8" cy="748.3" r="2.0"/>
<circle cx="1155.9" cy="741.2" r="2.0"/>
<circle cx="1144.1" cy="750.4" r="2.0"/>
<circle cx="1149.4" cy="754.8" r="2.0"/>
<circle cx="1142.9" cy="755.1" r="2.0"/>
<circle cx="1113.5" cy="749.2" r="2.0"/>
<circle cx="1126.4" cy="748.1" r="2.0"/>
<circle cx="1154.0" cy="750.0" r="2.0"/>
<circle cx="1130.5" cy="749.6" r="2.0"/>
<circle cx="1137.1" cy="752.3" r="2.0"/>
<circle cx="1143.7" cy="755.5" r="2.0"/>
<circle cx="1121.1" cy="759.0" r="2.0"/>
<circle cx="1125.6" cy="755.7" r="2.0"/>
<circle cx="1118.7" cy="754.9" r="2.0"/>
<circle cx="1138.0" cy="758.0" r="2.0"/>
<circle cx="1118.4" cy="756.0" r="2.0"/>
<circle cx="1130.5" cy="755.1" r="2.0"/>
<circle cx="1146.8" cy="749.3" r="2.0"/>
<circle cx="1134.9" cy="743.4" r="2.0"/>
<circle cx="1146.7" cy="753.0" r="2.0"/>
<circle cx="1113.7" cy="749.6" r="2.0"/>
</g>
</svg>
</div></body></html>
